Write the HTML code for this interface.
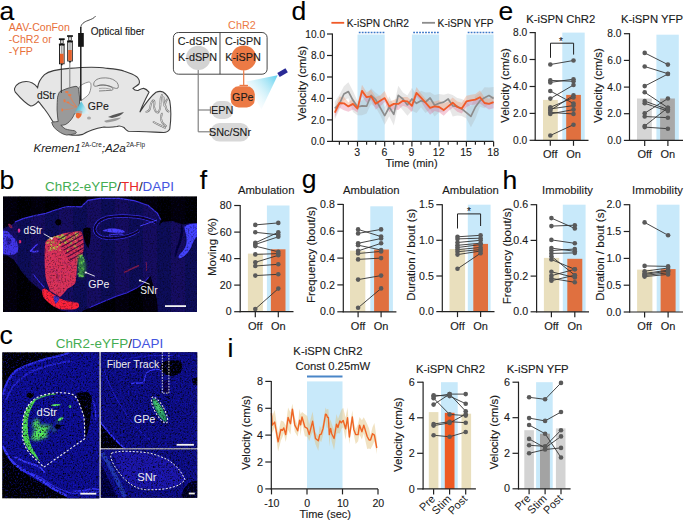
<!DOCTYPE html><html><head><meta charset="utf-8"><style>html,body{margin:0;padding:0;background:#fff;}svg{display:block;font-family:"Liberation Sans", sans-serif;}</style></head><body><svg width="685" height="522" viewBox="0 0 685 522"><rect width="685" height="522" fill="#fff"/>
<text x="-0.5" y="19.8" font-size="26.5" text-anchor="start" fill="#000" stroke="#000" stroke-width="0.12" >a</text>
<text x="291.5" y="19.8" font-size="26.5" text-anchor="start" fill="#000" stroke="#000" stroke-width="0.12" >d</text>
<text x="498.5" y="19.5" font-size="26.5" text-anchor="start" fill="#000" stroke="#000" stroke-width="0.12" >e</text>
<text x="-0.5" y="189.2" font-size="26.5" text-anchor="start" fill="#000" stroke="#000" stroke-width="0.12" >b</text>
<text x="-0.5" y="343.5" font-size="26.5" text-anchor="start" fill="#000" stroke="#000" stroke-width="0.12" >c</text>
<text x="199.8" y="188.5" font-size="26.5" text-anchor="start" fill="#000" stroke="#000" stroke-width="0.12" >f</text>
<text x="301.8" y="188.3" font-size="26.5" text-anchor="start" fill="#000" stroke="#000" stroke-width="0.12" >g</text>
<text x="502.5" y="189.2" font-size="26.5" text-anchor="start" fill="#000" stroke="#000" stroke-width="0.12" >h</text>
<text x="227.6" y="356.8" font-size="26.5" text-anchor="start" fill="#000" stroke="#000" stroke-width="0.12" >i</text>
<rect x="357.5" y="34.5" width="27.2" height="106.9" fill="#c8e9fa" />
<line x1="358.8" y1="32.4" x2="384.4" y2="32.4" stroke="#3b78c9" stroke-width="1.5" stroke-dasharray="1.8 1.17"/>
<rect x="411.9" y="34.5" width="27.2" height="106.9" fill="#c8e9fa" />
<line x1="413.2" y1="32.4" x2="438.8" y2="32.4" stroke="#3b78c9" stroke-width="1.5" stroke-dasharray="1.8 1.17"/>
<rect x="466.4" y="34.5" width="27.2" height="106.9" fill="#c8e9fa" />
<line x1="467.7" y1="32.4" x2="493.3" y2="32.4" stroke="#3b78c9" stroke-width="1.5" stroke-dasharray="1.8 1.17"/>
<polygon points="334.8,101.4 339.4,94.9 343.9,86.3 348.4,82.3 353.0,90.9 357.5,101.2 362.0,100.4 366.6,95.4 371.1,88.3 375.7,92.7 380.2,95.9 384.7,107.2 389.3,96.3 393.8,106.0 398.3,85.8 402.9,92.6 407.4,95.4 411.9,88.0 416.5,94.5 421.0,90.7 425.5,92.4 430.1,92.2 434.6,95.0 439.1,94.1 443.7,94.8 448.2,93.4 452.7,94.9 457.3,98.0 461.8,98.9 466.4,101.6 470.9,106.4 475.4,95.7 480.0,92.9 484.5,87.2 489.0,87.4 493.6,87.0 493.6,104.8 489.0,103.7 484.5,108.2 480.0,106.7 475.4,118.8 470.9,127.2 466.4,118.4 461.8,116.1 457.3,115.5 452.7,116.6 448.2,105.7 443.7,112.1 439.1,112.3 434.6,116.4 430.1,109.6 425.5,113.0 421.0,107.2 416.5,113.0 411.9,110.7 407.4,115.8 402.9,110.3 398.3,105.1 393.8,125.6 389.3,116.2 384.7,124.8 380.2,115.3 375.7,107.5 371.1,104.0 366.6,113.5 362.0,115.3 357.5,115.2 353.0,111.9 348.4,98.3 343.9,100.3 339.4,109.8 334.8,119.4" fill="rgba(170,170,170,0.28)"/>
<polygon points="334.8,107.9 339.4,96.7 343.9,96.7 348.4,102.5 353.0,98.2 357.5,104.7 362.0,84.8 366.6,92.3 371.1,89.7 375.7,96.9 380.2,95.4 384.7,91.1 389.3,101.6 393.8,99.9 398.3,98.2 402.9,96.9 407.4,97.1 411.9,100.8 416.5,87.1 421.0,93.4 425.5,98.8 430.1,101.3 434.6,101.6 439.1,100.2 443.7,103.5 448.2,101.4 452.7,97.5 457.3,101.6 461.8,102.8 466.4,95.8 470.9,94.7 475.4,93.9 480.0,90.4 484.5,97.6 489.0,98.8 493.6,96.0 493.6,102.1 489.0,103.9 484.5,103.0 480.0,97.2 475.4,99.6 470.9,100.3 466.4,101.4 461.8,108.6 457.3,107.0 452.7,102.7 448.2,106.4 443.7,110.1 439.1,107.0 434.6,106.4 430.1,107.9 425.5,102.7 421.0,97.7 416.5,92.9 411.9,105.9 407.4,101.4 402.9,100.8 398.3,103.9 393.8,103.9 389.3,106.4 384.7,98.1 380.2,100.8 375.7,103.8 371.1,96.3 366.6,97.2 362.0,90.9 357.5,108.6 353.0,103.9 348.4,106.4 343.9,103.3 339.4,103.0 334.8,112.6" fill="rgba(240,150,110,0.38)"/>
<polygon points="334.8,112.6 339.4,103.0 343.9,103.3 348.4,106.4 353.0,103.9 357.5,108.6 362.0,90.9 366.6,97.2 371.1,96.3 375.7,103.8 380.2,100.8 384.7,98.1 389.3,106.4 393.8,103.9 398.3,103.9 402.9,100.8 407.4,101.4 411.9,105.9 416.5,92.9 421.0,97.7 425.5,102.7 430.1,107.9 434.6,106.4 439.1,107.0 443.7,110.1 448.2,106.4 452.7,102.7 457.3,107.0 461.8,108.6 466.4,101.4 470.9,100.3 475.4,99.6 480.0,97.2 484.5,103.0 489.0,103.9 493.6,102.1 493.6,108.2 489.0,109.5 484.5,106.8 480.0,103.4 475.4,104.6 470.9,105.0 466.4,107.1 461.8,113.6 457.3,111.8 452.7,107.7 448.2,111.2 443.7,115.8 439.1,112.3 434.6,111.0 430.1,114.8 425.5,108.7 421.0,101.6 416.5,96.7 411.9,112.0 407.4,107.5 402.9,105.7 398.3,109.9 393.8,109.2 389.3,112.2 384.7,102.1 380.2,106.6 375.7,109.6 371.1,100.1 366.6,102.8 362.0,96.0 357.5,112.4 353.0,109.4 348.4,111.8 343.9,110.2 339.4,107.7 334.8,117.1" fill="rgba(225,100,140,0.33)"/>
<polyline points="334.8,108.3 339.4,103.8 343.9,94.0 348.4,91.6 353.0,100.3 357.5,107.0 362.0,105.9 366.6,106.2 371.1,95.3 375.7,99.6 380.2,107.7 384.7,115.6 389.3,107.0 393.8,114.4 398.3,95.3 402.9,99.0 407.4,104.9 411.9,99.0 416.5,103.3 421.0,100.8 425.5,102.1 430.1,98.0 434.6,105.2 439.1,103.3 443.7,102.1 448.2,99.0 452.7,105.9 457.3,106.4 461.8,108.9 466.4,112.6 470.9,116.4 475.4,107.0 480.0,100.8 484.5,97.7 489.0,95.6 493.6,98.4" fill="none" stroke="#8c8c8c" stroke-width="1.7" stroke-linejoin="round"/>
<polyline points="334.8,112.6 339.4,103.0 343.9,103.3 348.4,106.4 353.0,103.9 357.5,108.6 362.0,90.9 366.6,97.2 371.1,96.3 375.7,103.8 380.2,100.8 384.7,98.1 389.3,106.4 393.8,103.9 398.3,103.9 402.9,100.8 407.4,101.4 411.9,105.9 416.5,92.9 421.0,97.7 425.5,102.7 430.1,107.9 434.6,106.4 439.1,107.0 443.7,110.1 448.2,106.4 452.7,102.7 457.3,107.0 461.8,108.6 466.4,101.4 470.9,100.3 475.4,99.6 480.0,97.2 484.5,103.0 489.0,103.9 493.6,102.1" fill="none" stroke="#f05a28" stroke-width="1.8" stroke-linejoin="round"/>
<line x1="332.4" y1="141.9" x2="332.4" y2="33.5" stroke="#222" stroke-width="1.2" />
<line x1="327.0" y1="141.4" x2="332.4" y2="141.4" stroke="#222" stroke-width="1.2" />
<text x="325.0" y="145.0" font-size="10.1" text-anchor="end" fill="#1a1a1a" stroke="#1a1a1a" stroke-width="0.12" >0.0</text>
<line x1="327.0" y1="119.9" x2="332.4" y2="119.9" stroke="#222" stroke-width="1.2" />
<text x="325.0" y="123.5" font-size="10.1" text-anchor="end" fill="#1a1a1a" stroke="#1a1a1a" stroke-width="0.12" >2.0</text>
<line x1="327.0" y1="98.4" x2="332.4" y2="98.4" stroke="#222" stroke-width="1.2" />
<text x="325.0" y="102.0" font-size="10.1" text-anchor="end" fill="#1a1a1a" stroke="#1a1a1a" stroke-width="0.12" >4.0</text>
<line x1="327.0" y1="77.0" x2="332.4" y2="77.0" stroke="#222" stroke-width="1.2" />
<text x="325.0" y="80.6" font-size="10.1" text-anchor="end" fill="#1a1a1a" stroke="#1a1a1a" stroke-width="0.12" >6.0</text>
<line x1="327.0" y1="55.5" x2="332.4" y2="55.5" stroke="#222" stroke-width="1.2" />
<text x="325.0" y="59.1" font-size="10.1" text-anchor="end" fill="#1a1a1a" stroke="#1a1a1a" stroke-width="0.12" >8.0</text>
<line x1="327.0" y1="34.0" x2="332.4" y2="34.0" stroke="#222" stroke-width="1.2" />
<text x="325.0" y="37.6" font-size="10.1" text-anchor="end" fill="#1a1a1a" stroke="#1a1a1a" stroke-width="0.12" >10.0</text>
<line x1="331.8" y1="141.4" x2="493.6" y2="141.4" stroke="#222" stroke-width="1.2" />
<line x1="339.4" y1="141.4" x2="339.4" y2="144.7" stroke="#222" stroke-width="1.2" />
<line x1="348.4" y1="141.4" x2="348.4" y2="144.7" stroke="#222" stroke-width="1.2" />
<line x1="366.6" y1="141.4" x2="366.6" y2="144.7" stroke="#222" stroke-width="1.2" />
<line x1="375.7" y1="141.4" x2="375.7" y2="144.7" stroke="#222" stroke-width="1.2" />
<line x1="393.8" y1="141.4" x2="393.8" y2="144.7" stroke="#222" stroke-width="1.2" />
<line x1="402.9" y1="141.4" x2="402.9" y2="144.7" stroke="#222" stroke-width="1.2" />
<line x1="421.0" y1="141.4" x2="421.0" y2="144.7" stroke="#222" stroke-width="1.2" />
<line x1="430.1" y1="141.4" x2="430.1" y2="144.7" stroke="#222" stroke-width="1.2" />
<line x1="448.2" y1="141.4" x2="448.2" y2="144.7" stroke="#222" stroke-width="1.2" />
<line x1="457.3" y1="141.4" x2="457.3" y2="144.7" stroke="#222" stroke-width="1.2" />
<line x1="475.4" y1="141.4" x2="475.4" y2="144.7" stroke="#222" stroke-width="1.2" />
<line x1="484.5" y1="141.4" x2="484.5" y2="144.7" stroke="#222" stroke-width="1.2" />
<line x1="357.5" y1="141.4" x2="357.5" y2="146.4" stroke="#222" stroke-width="1.2" />
<line x1="384.7" y1="141.4" x2="384.7" y2="146.4" stroke="#222" stroke-width="1.2" />
<line x1="411.9" y1="141.4" x2="411.9" y2="146.4" stroke="#222" stroke-width="1.2" />
<line x1="439.1" y1="141.4" x2="439.1" y2="146.4" stroke="#222" stroke-width="1.2" />
<line x1="466.4" y1="141.4" x2="466.4" y2="146.4" stroke="#222" stroke-width="1.2" />
<line x1="493.6" y1="141.4" x2="493.6" y2="146.4" stroke="#222" stroke-width="1.2" />
<text x="357.1" y="155.5" font-size="10.5" text-anchor="middle" fill="#1a1a1a" stroke="#1a1a1a" stroke-width="0.12" >3</text>
<text x="384.3" y="155.5" font-size="10.5" text-anchor="middle" fill="#1a1a1a" stroke="#1a1a1a" stroke-width="0.12" >6</text>
<text x="411.5" y="155.5" font-size="10.5" text-anchor="middle" fill="#1a1a1a" stroke="#1a1a1a" stroke-width="0.12" >9</text>
<text x="438.7" y="155.5" font-size="10.5" text-anchor="middle" fill="#1a1a1a" stroke="#1a1a1a" stroke-width="0.12" >12</text>
<text x="466.0" y="155.5" font-size="10.5" text-anchor="middle" fill="#1a1a1a" stroke="#1a1a1a" stroke-width="0.12" >15</text>
<text x="493.2" y="155.5" font-size="10.5" text-anchor="middle" fill="#1a1a1a" stroke="#1a1a1a" stroke-width="0.12" >18</text>
<text x="411.5" y="166.5" font-size="11" text-anchor="middle" fill="#1a1a1a" stroke="#1a1a1a" stroke-width="0.12" >Time (min)</text>
<text transform="translate(305.9,83.3) rotate(-90)" font-size="11.5" text-anchor="middle" fill="#1a1a1a" stroke="#1a1a1a" stroke-width="0.12">Velocity (cm/s)</text>
<line x1="331.4" y1="22.8" x2="344.2" y2="22.8" stroke="#f05a28" stroke-width="1.8" />
<text x="346.7" y="26.5" font-size="10.2" text-anchor="start" fill="#1a1a1a" stroke="#1a1a1a" stroke-width="0.12" >K-iSPN ChR2</text>
<line x1="422.0" y1="22.8" x2="435.0" y2="22.8" stroke="#8c8c8c" stroke-width="1.8" />
<text x="437.6" y="26.5" font-size="10.2" text-anchor="start" fill="#1a1a1a" stroke="#1a1a1a" stroke-width="0.12" >K-iSPN YFP</text>
<rect x="562.3" y="32.6" width="22.4" height="107.7" fill="#c8e9fa" />
<rect x="543.0" y="99.9" width="14.8" height="40.4" fill="#e9dfbd" />
<rect x="566.2" y="94.9" width="14.7" height="45.4" fill="#e0703f" />
<line x1="550.3" y1="64.5" x2="573.5" y2="60.5" stroke="#333" stroke-width="0.9" />
<line x1="550.3" y1="80.4" x2="573.5" y2="81.3" stroke="#333" stroke-width="0.9" />
<line x1="550.3" y1="82.4" x2="573.5" y2="79.2" stroke="#333" stroke-width="0.9" />
<line x1="550.3" y1="91.0" x2="573.5" y2="103.5" stroke="#333" stroke-width="0.9" />
<line x1="550.3" y1="98.6" x2="573.5" y2="85.0" stroke="#333" stroke-width="0.9" />
<line x1="550.3" y1="107.3" x2="573.5" y2="97.5" stroke="#333" stroke-width="0.9" />
<line x1="550.3" y1="108.9" x2="573.5" y2="105.6" stroke="#333" stroke-width="0.9" />
<line x1="550.3" y1="110.4" x2="573.5" y2="95.3" stroke="#333" stroke-width="0.9" />
<line x1="550.3" y1="112.4" x2="573.5" y2="114.0" stroke="#333" stroke-width="0.9" />
<line x1="550.3" y1="113.9" x2="573.5" y2="109.6" stroke="#333" stroke-width="0.9" />
<line x1="550.3" y1="135.5" x2="573.5" y2="124.7" stroke="#333" stroke-width="0.9" />
<circle cx="550.3" cy="64.5" r="2.3" fill="#5a5a5a" />
<circle cx="550.3" cy="80.4" r="2.3" fill="#5a5a5a" />
<circle cx="550.3" cy="82.4" r="2.3" fill="#5a5a5a" />
<circle cx="550.3" cy="91.0" r="2.3" fill="#5a5a5a" />
<circle cx="550.3" cy="98.6" r="2.3" fill="#5a5a5a" />
<circle cx="550.3" cy="107.3" r="2.3" fill="#5a5a5a" />
<circle cx="550.3" cy="108.9" r="2.3" fill="#5a5a5a" />
<circle cx="550.3" cy="110.4" r="2.3" fill="#5a5a5a" />
<circle cx="550.3" cy="112.4" r="2.3" fill="#5a5a5a" />
<circle cx="550.3" cy="113.9" r="2.3" fill="#5a5a5a" />
<circle cx="550.3" cy="135.5" r="2.3" fill="#5a5a5a" />
<circle cx="573.5" cy="60.5" r="2.3" fill="#5a5a5a" />
<circle cx="573.5" cy="81.3" r="2.3" fill="#5a5a5a" />
<circle cx="573.5" cy="79.2" r="2.3" fill="#5a5a5a" />
<circle cx="573.5" cy="103.5" r="2.3" fill="#5a5a5a" />
<circle cx="573.5" cy="85.0" r="2.3" fill="#5a5a5a" />
<circle cx="573.5" cy="97.5" r="2.3" fill="#5a5a5a" />
<circle cx="573.5" cy="105.6" r="2.3" fill="#5a5a5a" />
<circle cx="573.5" cy="95.3" r="2.3" fill="#5a5a5a" />
<circle cx="573.5" cy="114.0" r="2.3" fill="#5a5a5a" />
<circle cx="573.5" cy="109.6" r="2.3" fill="#5a5a5a" />
<circle cx="573.5" cy="124.7" r="2.3" fill="#5a5a5a" />
<line x1="535.2" y1="140.8" x2="535.2" y2="32.1" stroke="#222" stroke-width="1.2" />
<line x1="529.6" y1="140.3" x2="535.2" y2="140.3" stroke="#222" stroke-width="1.2" />
<text x="527.2" y="143.9" font-size="10.2" text-anchor="end" fill="#1a1a1a" stroke="#1a1a1a" stroke-width="0.12" >0.0</text>
<line x1="529.6" y1="113.4" x2="535.2" y2="113.4" stroke="#222" stroke-width="1.2" />
<text x="527.2" y="117.0" font-size="10.2" text-anchor="end" fill="#1a1a1a" stroke="#1a1a1a" stroke-width="0.12" >2.0</text>
<line x1="529.6" y1="86.5" x2="535.2" y2="86.5" stroke="#222" stroke-width="1.2" />
<text x="527.2" y="90.0" font-size="10.2" text-anchor="end" fill="#1a1a1a" stroke="#1a1a1a" stroke-width="0.12" >4.0</text>
<line x1="529.6" y1="59.5" x2="535.2" y2="59.5" stroke="#222" stroke-width="1.2" />
<text x="527.2" y="63.1" font-size="10.2" text-anchor="end" fill="#1a1a1a" stroke="#1a1a1a" stroke-width="0.12" >6.0</text>
<line x1="529.6" y1="32.6" x2="535.2" y2="32.6" stroke="#222" stroke-width="1.2" />
<text x="527.2" y="36.2" font-size="10.2" text-anchor="end" fill="#1a1a1a" stroke="#1a1a1a" stroke-width="0.12" >8.0</text>
<line x1="534.6" y1="140.3" x2="588.5" y2="140.3" stroke="#222" stroke-width="1.2" />
<line x1="550.3" y1="140.3" x2="550.3" y2="145.8" stroke="#222" stroke-width="1.2" />
<line x1="573.5" y1="140.3" x2="573.5" y2="145.8" stroke="#222" stroke-width="1.2" />
<text x="550.3" y="157.6" font-size="11" text-anchor="middle" fill="#1a1a1a" stroke="#1a1a1a" stroke-width="0.12" >Off</text>
<text x="573.5" y="157.6" font-size="11" text-anchor="middle" fill="#1a1a1a" stroke="#1a1a1a" stroke-width="0.12" >On</text>
<text x="560.7" y="22.9" font-size="11.3" text-anchor="middle" fill="#1a1a1a" stroke="#1a1a1a" stroke-width="0.12" >K-iSPN ChR2</text>
<text transform="translate(509.1,85.5) rotate(-90)" font-size="11.5" text-anchor="middle" fill="#1a1a1a" stroke="#1a1a1a" stroke-width="0.12">Velocity (cm/s)</text>
<polyline points="550.5,57.8 550.5,43.2 573.6,43.2 573.6,54.6" fill="none" stroke="#222" stroke-width="1"/>
<text x="561.0" y="44.9" font-size="10" text-anchor="middle" fill="#1a1a1a" stroke="#1a1a1a" stroke-width="0.12" >*</text>
<rect x="656.4" y="34.7" width="22.4" height="105.7" fill="#c8e9fa" />
<rect x="637.0" y="98.5" width="14.8" height="41.9" fill="#d5d5d5" />
<rect x="660.1" y="98.5" width="14.8" height="41.9" fill="#a9a9a9" />
<line x1="644.7" y1="52.9" x2="667.9" y2="64.6" stroke="#333" stroke-width="0.9" />
<line x1="644.7" y1="66.5" x2="667.9" y2="73.7" stroke="#333" stroke-width="0.9" />
<line x1="644.7" y1="86.1" x2="667.9" y2="74.0" stroke="#333" stroke-width="0.9" />
<line x1="644.7" y1="92.3" x2="667.9" y2="107.7" stroke="#333" stroke-width="0.9" />
<line x1="644.7" y1="101.1" x2="667.9" y2="109.5" stroke="#333" stroke-width="0.9" />
<line x1="644.7" y1="103.3" x2="667.9" y2="111.1" stroke="#333" stroke-width="0.9" />
<line x1="644.7" y1="113.2" x2="667.9" y2="98.5" stroke="#333" stroke-width="0.9" />
<line x1="644.7" y1="116.5" x2="667.9" y2="117.7" stroke="#333" stroke-width="0.9" />
<line x1="644.7" y1="126.0" x2="667.9" y2="107.7" stroke="#333" stroke-width="0.9" />
<line x1="644.7" y1="127.1" x2="667.9" y2="128.7" stroke="#333" stroke-width="0.9" />
<circle cx="644.7" cy="52.9" r="2.3" fill="#5a5a5a" />
<circle cx="644.7" cy="66.5" r="2.3" fill="#5a5a5a" />
<circle cx="644.7" cy="86.1" r="2.3" fill="#5a5a5a" />
<circle cx="644.7" cy="92.3" r="2.3" fill="#5a5a5a" />
<circle cx="644.7" cy="101.1" r="2.3" fill="#5a5a5a" />
<circle cx="644.7" cy="103.3" r="2.3" fill="#5a5a5a" />
<circle cx="644.7" cy="113.2" r="2.3" fill="#5a5a5a" />
<circle cx="644.7" cy="116.5" r="2.3" fill="#5a5a5a" />
<circle cx="644.7" cy="126.0" r="2.3" fill="#5a5a5a" />
<circle cx="644.7" cy="127.1" r="2.3" fill="#5a5a5a" />
<circle cx="667.9" cy="64.6" r="2.3" fill="#5a5a5a" />
<circle cx="667.9" cy="73.7" r="2.3" fill="#5a5a5a" />
<circle cx="667.9" cy="74.0" r="2.3" fill="#5a5a5a" />
<circle cx="667.9" cy="107.7" r="2.3" fill="#5a5a5a" />
<circle cx="667.9" cy="109.5" r="2.3" fill="#5a5a5a" />
<circle cx="667.9" cy="111.1" r="2.3" fill="#5a5a5a" />
<circle cx="667.9" cy="98.5" r="2.3" fill="#5a5a5a" />
<circle cx="667.9" cy="117.7" r="2.3" fill="#5a5a5a" />
<circle cx="667.9" cy="107.7" r="2.3" fill="#5a5a5a" />
<circle cx="667.9" cy="128.7" r="2.3" fill="#5a5a5a" />
<line x1="629.5" y1="140.9" x2="629.5" y2="33.2" stroke="#222" stroke-width="1.2" />
<line x1="623.9" y1="140.4" x2="629.5" y2="140.4" stroke="#222" stroke-width="1.2" />
<text x="621.5" y="144.0" font-size="10.2" text-anchor="end" fill="#1a1a1a" stroke="#1a1a1a" stroke-width="0.12" >0.0</text>
<line x1="623.9" y1="113.7" x2="629.5" y2="113.7" stroke="#222" stroke-width="1.2" />
<text x="621.5" y="117.3" font-size="10.2" text-anchor="end" fill="#1a1a1a" stroke="#1a1a1a" stroke-width="0.12" >2.0</text>
<line x1="623.9" y1="87.1" x2="629.5" y2="87.1" stroke="#222" stroke-width="1.2" />
<text x="621.5" y="90.7" font-size="10.2" text-anchor="end" fill="#1a1a1a" stroke="#1a1a1a" stroke-width="0.12" >4.0</text>
<line x1="623.9" y1="60.4" x2="629.5" y2="60.4" stroke="#222" stroke-width="1.2" />
<text x="621.5" y="64.0" font-size="10.2" text-anchor="end" fill="#1a1a1a" stroke="#1a1a1a" stroke-width="0.12" >6.0</text>
<line x1="623.9" y1="33.7" x2="629.5" y2="33.7" stroke="#222" stroke-width="1.2" />
<text x="621.5" y="37.3" font-size="10.2" text-anchor="end" fill="#1a1a1a" stroke="#1a1a1a" stroke-width="0.12" >8.0</text>
<line x1="628.9" y1="140.4" x2="683.0" y2="140.4" stroke="#222" stroke-width="1.2" />
<line x1="644.7" y1="140.4" x2="644.7" y2="145.9" stroke="#222" stroke-width="1.2" />
<line x1="667.9" y1="140.4" x2="667.9" y2="145.9" stroke="#222" stroke-width="1.2" />
<text x="644.7" y="157.6" font-size="11" text-anchor="middle" fill="#1a1a1a" stroke="#1a1a1a" stroke-width="0.12" >Off</text>
<text x="667.9" y="157.6" font-size="11" text-anchor="middle" fill="#1a1a1a" stroke="#1a1a1a" stroke-width="0.12" >On</text>
<text x="652.0" y="22.9" font-size="11.3" text-anchor="middle" fill="#1a1a1a" stroke="#1a1a1a" stroke-width="0.12" >K-iSPN YFP</text>
<text transform="translate(601.7,85.5) rotate(-90)" font-size="11.5" text-anchor="middle" fill="#1a1a1a" stroke="#1a1a1a" stroke-width="0.12">Velocity (cm/s)</text>
<rect x="266.9" y="205.5" width="22.6" height="106.2" fill="#c8e9fa" />
<rect x="247.9" y="253.6" width="15.0" height="58.1" fill="#e9dfbd" />
<rect x="270.9" y="249.3" width="14.6" height="62.4" fill="#e0703f" />
<line x1="255.3" y1="224.9" x2="278.3" y2="222.9" stroke="#333" stroke-width="0.9" />
<line x1="255.3" y1="232.3" x2="278.3" y2="234.8" stroke="#333" stroke-width="0.9" />
<line x1="255.3" y1="242.8" x2="278.3" y2="232.3" stroke="#333" stroke-width="0.9" />
<line x1="255.3" y1="244.4" x2="278.3" y2="236.8" stroke="#333" stroke-width="0.9" />
<line x1="255.3" y1="246.1" x2="278.3" y2="251.8" stroke="#333" stroke-width="0.9" />
<line x1="255.3" y1="254.4" x2="278.3" y2="253.6" stroke="#333" stroke-width="0.9" />
<line x1="255.3" y1="262.3" x2="278.3" y2="255.3" stroke="#333" stroke-width="0.9" />
<line x1="255.3" y1="266.0" x2="278.3" y2="264.3" stroke="#333" stroke-width="0.9" />
<line x1="255.3" y1="275.6" x2="278.3" y2="274.3" stroke="#333" stroke-width="0.9" />
<line x1="255.3" y1="309.0" x2="278.3" y2="288.6" stroke="#333" stroke-width="0.9" />
<circle cx="255.3" cy="224.9" r="2.3" fill="#5a5a5a" />
<circle cx="255.3" cy="232.3" r="2.3" fill="#5a5a5a" />
<circle cx="255.3" cy="242.8" r="2.3" fill="#5a5a5a" />
<circle cx="255.3" cy="244.4" r="2.3" fill="#5a5a5a" />
<circle cx="255.3" cy="246.1" r="2.3" fill="#5a5a5a" />
<circle cx="255.3" cy="254.4" r="2.3" fill="#5a5a5a" />
<circle cx="255.3" cy="262.3" r="2.3" fill="#5a5a5a" />
<circle cx="255.3" cy="266.0" r="2.3" fill="#5a5a5a" />
<circle cx="255.3" cy="275.6" r="2.3" fill="#5a5a5a" />
<circle cx="255.3" cy="309.0" r="2.3" fill="#5a5a5a" />
<circle cx="278.3" cy="222.9" r="2.3" fill="#5a5a5a" />
<circle cx="278.3" cy="234.8" r="2.3" fill="#5a5a5a" />
<circle cx="278.3" cy="232.3" r="2.3" fill="#5a5a5a" />
<circle cx="278.3" cy="236.8" r="2.3" fill="#5a5a5a" />
<circle cx="278.3" cy="251.8" r="2.3" fill="#5a5a5a" />
<circle cx="278.3" cy="253.6" r="2.3" fill="#5a5a5a" />
<circle cx="278.3" cy="255.3" r="2.3" fill="#5a5a5a" />
<circle cx="278.3" cy="264.3" r="2.3" fill="#5a5a5a" />
<circle cx="278.3" cy="274.3" r="2.3" fill="#5a5a5a" />
<circle cx="278.3" cy="288.6" r="2.3" fill="#5a5a5a" />
<line x1="240.2" y1="312.2" x2="240.2" y2="205.0" stroke="#222" stroke-width="1.2" />
<line x1="234.2" y1="311.7" x2="240.2" y2="311.7" stroke="#222" stroke-width="1.2" />
<text x="231.6" y="315.3" font-size="10.6" text-anchor="end" fill="#1a1a1a" stroke="#1a1a1a" stroke-width="0.12" >0</text>
<line x1="234.2" y1="285.1" x2="240.2" y2="285.1" stroke="#222" stroke-width="1.2" />
<text x="231.6" y="288.8" font-size="10.6" text-anchor="end" fill="#1a1a1a" stroke="#1a1a1a" stroke-width="0.12" >20</text>
<line x1="234.2" y1="258.6" x2="240.2" y2="258.6" stroke="#222" stroke-width="1.2" />
<text x="231.6" y="262.2" font-size="10.6" text-anchor="end" fill="#1a1a1a" stroke="#1a1a1a" stroke-width="0.12" >40</text>
<line x1="234.2" y1="232.1" x2="240.2" y2="232.1" stroke="#222" stroke-width="1.2" />
<text x="231.6" y="235.7" font-size="10.6" text-anchor="end" fill="#1a1a1a" stroke="#1a1a1a" stroke-width="0.12" >60</text>
<line x1="234.2" y1="205.5" x2="240.2" y2="205.5" stroke="#222" stroke-width="1.2" />
<text x="231.6" y="209.1" font-size="10.6" text-anchor="end" fill="#1a1a1a" stroke="#1a1a1a" stroke-width="0.12" >80</text>
<line x1="239.6" y1="311.7" x2="293.5" y2="311.7" stroke="#222" stroke-width="1.2" />
<line x1="255.3" y1="311.7" x2="255.3" y2="317.2" stroke="#222" stroke-width="1.2" />
<line x1="278.3" y1="311.7" x2="278.3" y2="317.2" stroke="#222" stroke-width="1.2" />
<text x="255.3" y="329.8" font-size="11" text-anchor="middle" fill="#1a1a1a" stroke="#1a1a1a" stroke-width="0.12" >Off</text>
<text x="278.3" y="329.8" font-size="11" text-anchor="middle" fill="#1a1a1a" stroke="#1a1a1a" stroke-width="0.12" >On</text>
<text x="266.2" y="193.6" font-size="11.3" text-anchor="middle" fill="#1a1a1a" stroke="#1a1a1a" stroke-width="0.12" >Ambulation</text>
<text transform="translate(215.8,246.9) rotate(-90)" font-size="11.5" text-anchor="middle" fill="#1a1a1a" stroke="#1a1a1a" stroke-width="0.12">Moving (%)</text>
<rect x="370.3" y="206.3" width="22.6" height="105.5" fill="#c8e9fa" />
<rect x="350.0" y="250.6" width="15.3" height="61.2" fill="#e9dfbd" />
<rect x="374.1" y="249.5" width="14.8" height="62.3" fill="#e0703f" />
<line x1="358.1" y1="229.4" x2="381.1" y2="236.6" stroke="#333" stroke-width="0.9" />
<line x1="358.1" y1="233.4" x2="381.1" y2="229.4" stroke="#333" stroke-width="0.9" />
<line x1="358.1" y1="243.3" x2="381.1" y2="238.5" stroke="#333" stroke-width="0.9" />
<line x1="358.1" y1="245.2" x2="381.1" y2="250.0" stroke="#333" stroke-width="0.9" />
<line x1="358.1" y1="250.9" x2="381.1" y2="243.3" stroke="#333" stroke-width="0.9" />
<line x1="358.1" y1="253.5" x2="381.1" y2="251.4" stroke="#333" stroke-width="0.9" />
<line x1="358.1" y1="259.4" x2="381.1" y2="258.1" stroke="#333" stroke-width="0.9" />
<line x1="358.1" y1="279.6" x2="381.1" y2="275.6" stroke="#333" stroke-width="0.9" />
<line x1="358.1" y1="307.8" x2="381.1" y2="288.4" stroke="#333" stroke-width="0.9" />
<circle cx="358.1" cy="229.4" r="2.3" fill="#5a5a5a" />
<circle cx="358.1" cy="233.4" r="2.3" fill="#5a5a5a" />
<circle cx="358.1" cy="243.3" r="2.3" fill="#5a5a5a" />
<circle cx="358.1" cy="245.2" r="2.3" fill="#5a5a5a" />
<circle cx="358.1" cy="250.9" r="2.3" fill="#5a5a5a" />
<circle cx="358.1" cy="253.5" r="2.3" fill="#5a5a5a" />
<circle cx="358.1" cy="259.4" r="2.3" fill="#5a5a5a" />
<circle cx="358.1" cy="279.6" r="2.3" fill="#5a5a5a" />
<circle cx="358.1" cy="307.8" r="2.3" fill="#5a5a5a" />
<circle cx="381.1" cy="236.6" r="2.3" fill="#5a5a5a" />
<circle cx="381.1" cy="229.4" r="2.3" fill="#5a5a5a" />
<circle cx="381.1" cy="238.5" r="2.3" fill="#5a5a5a" />
<circle cx="381.1" cy="250.0" r="2.3" fill="#5a5a5a" />
<circle cx="381.1" cy="243.3" r="2.3" fill="#5a5a5a" />
<circle cx="381.1" cy="251.4" r="2.3" fill="#5a5a5a" />
<circle cx="381.1" cy="258.1" r="2.3" fill="#5a5a5a" />
<circle cx="381.1" cy="275.6" r="2.3" fill="#5a5a5a" />
<circle cx="381.1" cy="288.4" r="2.3" fill="#5a5a5a" />
<line x1="343.3" y1="312.3" x2="343.3" y2="203.9" stroke="#222" stroke-width="1.2" />
<line x1="337.3" y1="311.8" x2="343.3" y2="311.8" stroke="#222" stroke-width="1.2" />
<text x="334.8" y="315.4" font-size="10.6" text-anchor="end" fill="#1a1a1a" stroke="#1a1a1a" stroke-width="0.12" >0.0</text>
<line x1="337.3" y1="284.9" x2="343.3" y2="284.9" stroke="#222" stroke-width="1.2" />
<text x="334.8" y="288.6" font-size="10.6" text-anchor="end" fill="#1a1a1a" stroke="#1a1a1a" stroke-width="0.12" >0.2</text>
<line x1="337.3" y1="258.1" x2="343.3" y2="258.1" stroke="#222" stroke-width="1.2" />
<text x="334.8" y="261.7" font-size="10.6" text-anchor="end" fill="#1a1a1a" stroke="#1a1a1a" stroke-width="0.12" >0.4</text>
<line x1="337.3" y1="231.2" x2="343.3" y2="231.2" stroke="#222" stroke-width="1.2" />
<text x="334.8" y="234.8" font-size="10.6" text-anchor="end" fill="#1a1a1a" stroke="#1a1a1a" stroke-width="0.12" >0.6</text>
<line x1="337.3" y1="204.4" x2="343.3" y2="204.4" stroke="#222" stroke-width="1.2" />
<text x="334.8" y="208.0" font-size="10.6" text-anchor="end" fill="#1a1a1a" stroke="#1a1a1a" stroke-width="0.12" >0.8</text>
<line x1="342.7" y1="311.8" x2="396.4" y2="311.8" stroke="#222" stroke-width="1.2" />
<line x1="358.1" y1="311.8" x2="358.1" y2="317.3" stroke="#222" stroke-width="1.2" />
<line x1="381.1" y1="311.8" x2="381.1" y2="317.3" stroke="#222" stroke-width="1.2" />
<text x="358.1" y="329.8" font-size="11" text-anchor="middle" fill="#1a1a1a" stroke="#1a1a1a" stroke-width="0.12" >Off</text>
<text x="381.1" y="329.8" font-size="11" text-anchor="middle" fill="#1a1a1a" stroke="#1a1a1a" stroke-width="0.12" >On</text>
<text x="371.3" y="193.6" font-size="11.3" text-anchor="middle" fill="#1a1a1a" stroke="#1a1a1a" stroke-width="0.12" >Ambulation</text>
<text transform="translate(315.3,254.8) rotate(-90)" font-size="11.5" text-anchor="middle" fill="#1a1a1a" stroke="#1a1a1a" stroke-width="0.12">Frequency (bout/s)</text>
<rect x="467.8" y="204.7" width="22.8" height="106.9" fill="#c8e9fa" />
<rect x="449.5" y="249.0" width="15.6" height="62.6" fill="#e9dfbd" />
<rect x="473.3" y="243.9" width="14.7" height="67.7" fill="#e0703f" />
<line x1="457.5" y1="236.8" x2="480.6" y2="235.3" stroke="#333" stroke-width="0.9" />
<line x1="457.5" y1="238.9" x2="480.6" y2="238.2" stroke="#333" stroke-width="0.9" />
<line x1="457.5" y1="242.5" x2="480.6" y2="240.3" stroke="#333" stroke-width="0.9" />
<line x1="457.5" y1="245.3" x2="480.6" y2="243.2" stroke="#333" stroke-width="0.9" />
<line x1="457.5" y1="247.5" x2="480.6" y2="244.6" stroke="#333" stroke-width="0.9" />
<line x1="457.5" y1="249.6" x2="480.6" y2="247.5" stroke="#333" stroke-width="0.9" />
<line x1="457.5" y1="251.7" x2="480.6" y2="249.6" stroke="#333" stroke-width="0.9" />
<line x1="457.5" y1="254.6" x2="480.6" y2="251.0" stroke="#333" stroke-width="0.9" />
<line x1="457.5" y1="268.8" x2="480.6" y2="253.2" stroke="#333" stroke-width="0.9" />
<circle cx="457.5" cy="236.8" r="2.3" fill="#5a5a5a" />
<circle cx="457.5" cy="238.9" r="2.3" fill="#5a5a5a" />
<circle cx="457.5" cy="242.5" r="2.3" fill="#5a5a5a" />
<circle cx="457.5" cy="245.3" r="2.3" fill="#5a5a5a" />
<circle cx="457.5" cy="247.5" r="2.3" fill="#5a5a5a" />
<circle cx="457.5" cy="249.6" r="2.3" fill="#5a5a5a" />
<circle cx="457.5" cy="251.7" r="2.3" fill="#5a5a5a" />
<circle cx="457.5" cy="254.6" r="2.3" fill="#5a5a5a" />
<circle cx="457.5" cy="268.8" r="2.3" fill="#5a5a5a" />
<circle cx="480.6" cy="235.3" r="2.3" fill="#5a5a5a" />
<circle cx="480.6" cy="238.2" r="2.3" fill="#5a5a5a" />
<circle cx="480.6" cy="240.3" r="2.3" fill="#5a5a5a" />
<circle cx="480.6" cy="243.2" r="2.3" fill="#5a5a5a" />
<circle cx="480.6" cy="244.6" r="2.3" fill="#5a5a5a" />
<circle cx="480.6" cy="247.5" r="2.3" fill="#5a5a5a" />
<circle cx="480.6" cy="249.6" r="2.3" fill="#5a5a5a" />
<circle cx="480.6" cy="251.0" r="2.3" fill="#5a5a5a" />
<circle cx="480.6" cy="253.2" r="2.3" fill="#5a5a5a" />
<line x1="442.3" y1="312.1" x2="442.3" y2="204.2" stroke="#222" stroke-width="1.2" />
<line x1="436.3" y1="311.6" x2="442.3" y2="311.6" stroke="#222" stroke-width="1.2" />
<text x="433.8" y="315.2" font-size="10.6" text-anchor="end" fill="#1a1a1a" stroke="#1a1a1a" stroke-width="0.12" >0.0</text>
<line x1="436.3" y1="276.0" x2="442.3" y2="276.0" stroke="#222" stroke-width="1.2" />
<text x="433.8" y="279.6" font-size="10.6" text-anchor="end" fill="#1a1a1a" stroke="#1a1a1a" stroke-width="0.12" >0.5</text>
<line x1="436.3" y1="240.3" x2="442.3" y2="240.3" stroke="#222" stroke-width="1.2" />
<text x="433.8" y="243.9" font-size="10.6" text-anchor="end" fill="#1a1a1a" stroke="#1a1a1a" stroke-width="0.12" >1.0</text>
<line x1="436.3" y1="204.7" x2="442.3" y2="204.7" stroke="#222" stroke-width="1.2" />
<text x="433.8" y="208.3" font-size="10.6" text-anchor="end" fill="#1a1a1a" stroke="#1a1a1a" stroke-width="0.12" >1.5</text>
<line x1="441.7" y1="311.6" x2="494.5" y2="311.6" stroke="#222" stroke-width="1.2" />
<line x1="457.5" y1="311.6" x2="457.5" y2="317.1" stroke="#222" stroke-width="1.2" />
<line x1="480.6" y1="311.6" x2="480.6" y2="317.1" stroke="#222" stroke-width="1.2" />
<text x="457.5" y="329.8" font-size="11" text-anchor="middle" fill="#1a1a1a" stroke="#1a1a1a" stroke-width="0.12" >Off</text>
<text x="480.6" y="329.8" font-size="11" text-anchor="middle" fill="#1a1a1a" stroke="#1a1a1a" stroke-width="0.12" >On</text>
<text x="470.5" y="193.6" font-size="11.3" text-anchor="middle" fill="#1a1a1a" stroke="#1a1a1a" stroke-width="0.12" >Ambulation</text>
<text transform="translate(415.3,254.8) rotate(-90)" font-size="11.5" text-anchor="middle" fill="#1a1a1a" stroke="#1a1a1a" stroke-width="0.12">Duration / bout (s)</text>
<polyline points="457.5,228.5 457.5,213.9 480.6,213.9 480.6,226" fill="none" stroke="#222" stroke-width="1"/>
<text x="469.0" y="215.3" font-size="10" text-anchor="middle" fill="#1a1a1a" stroke="#1a1a1a" stroke-width="0.12" >*</text>
<rect x="562.8" y="204.7" width="22.8" height="107.1" fill="#c8e9fa" />
<rect x="543.9" y="257.9" width="15.3" height="53.9" fill="#e9dfbd" />
<rect x="567.3" y="258.8" width="15.0" height="53.0" fill="#e0703f" />
<line x1="551.4" y1="218.1" x2="574.8" y2="228.4" stroke="#333" stroke-width="0.9" />
<line x1="551.4" y1="226.1" x2="574.8" y2="225.2" stroke="#333" stroke-width="0.9" />
<line x1="551.4" y1="239.9" x2="574.8" y2="243.3" stroke="#333" stroke-width="0.9" />
<line x1="551.4" y1="248.1" x2="574.8" y2="251.3" stroke="#333" stroke-width="0.9" />
<line x1="551.4" y1="250.6" x2="574.8" y2="249.0" stroke="#333" stroke-width="0.9" />
<line x1="551.4" y1="253.4" x2="574.8" y2="252.9" stroke="#333" stroke-width="0.9" />
<line x1="551.4" y1="256.3" x2="574.8" y2="275.2" stroke="#333" stroke-width="0.9" />
<line x1="551.4" y1="259.5" x2="574.8" y2="269.3" stroke="#333" stroke-width="0.9" />
<line x1="551.4" y1="271.8" x2="574.8" y2="277.5" stroke="#333" stroke-width="0.9" />
<line x1="551.4" y1="275.7" x2="574.8" y2="269.3" stroke="#333" stroke-width="0.9" />
<line x1="551.4" y1="278.4" x2="574.8" y2="282.3" stroke="#333" stroke-width="0.9" />
<line x1="551.4" y1="280.7" x2="574.8" y2="275.2" stroke="#333" stroke-width="0.9" />
<circle cx="551.4" cy="218.1" r="2.3" fill="#5a5a5a" />
<circle cx="551.4" cy="226.1" r="2.3" fill="#5a5a5a" />
<circle cx="551.4" cy="239.9" r="2.3" fill="#5a5a5a" />
<circle cx="551.4" cy="248.1" r="2.3" fill="#5a5a5a" />
<circle cx="551.4" cy="250.6" r="2.3" fill="#5a5a5a" />
<circle cx="551.4" cy="253.4" r="2.3" fill="#5a5a5a" />
<circle cx="551.4" cy="256.3" r="2.3" fill="#5a5a5a" />
<circle cx="551.4" cy="259.5" r="2.3" fill="#5a5a5a" />
<circle cx="551.4" cy="271.8" r="2.3" fill="#5a5a5a" />
<circle cx="551.4" cy="275.7" r="2.3" fill="#5a5a5a" />
<circle cx="551.4" cy="278.4" r="2.3" fill="#5a5a5a" />
<circle cx="551.4" cy="280.7" r="2.3" fill="#5a5a5a" />
<circle cx="574.8" cy="228.4" r="2.3" fill="#5a5a5a" />
<circle cx="574.8" cy="225.2" r="2.3" fill="#5a5a5a" />
<circle cx="574.8" cy="243.3" r="2.3" fill="#5a5a5a" />
<circle cx="574.8" cy="251.3" r="2.3" fill="#5a5a5a" />
<circle cx="574.8" cy="249.0" r="2.3" fill="#5a5a5a" />
<circle cx="574.8" cy="252.9" r="2.3" fill="#5a5a5a" />
<circle cx="574.8" cy="275.2" r="2.3" fill="#5a5a5a" />
<circle cx="574.8" cy="269.3" r="2.3" fill="#5a5a5a" />
<circle cx="574.8" cy="277.5" r="2.3" fill="#5a5a5a" />
<circle cx="574.8" cy="269.3" r="2.3" fill="#5a5a5a" />
<circle cx="574.8" cy="282.3" r="2.3" fill="#5a5a5a" />
<circle cx="574.8" cy="275.2" r="2.3" fill="#5a5a5a" />
<line x1="536.6" y1="312.3" x2="536.6" y2="204.2" stroke="#222" stroke-width="1.2" />
<line x1="530.6" y1="311.8" x2="536.6" y2="311.8" stroke="#222" stroke-width="1.2" />
<text x="528.1" y="315.4" font-size="10.6" text-anchor="end" fill="#1a1a1a" stroke="#1a1a1a" stroke-width="0.12" >0.0</text>
<line x1="530.6" y1="276.1" x2="536.6" y2="276.1" stroke="#222" stroke-width="1.2" />
<text x="528.1" y="279.7" font-size="10.6" text-anchor="end" fill="#1a1a1a" stroke="#1a1a1a" stroke-width="0.12" >0.2</text>
<line x1="530.6" y1="240.4" x2="536.6" y2="240.4" stroke="#222" stroke-width="1.2" />
<text x="528.1" y="244.0" font-size="10.6" text-anchor="end" fill="#1a1a1a" stroke="#1a1a1a" stroke-width="0.12" >0.4</text>
<line x1="530.6" y1="204.7" x2="536.6" y2="204.7" stroke="#222" stroke-width="1.2" />
<text x="528.1" y="208.3" font-size="10.6" text-anchor="end" fill="#1a1a1a" stroke="#1a1a1a" stroke-width="0.12" >0.6</text>
<line x1="536.0" y1="311.8" x2="589.0" y2="311.8" stroke="#222" stroke-width="1.2" />
<line x1="551.4" y1="311.8" x2="551.4" y2="317.3" stroke="#222" stroke-width="1.2" />
<line x1="574.8" y1="311.8" x2="574.8" y2="317.3" stroke="#222" stroke-width="1.2" />
<text x="551.4" y="329.8" font-size="11" text-anchor="middle" fill="#1a1a1a" stroke="#1a1a1a" stroke-width="0.12" >Off</text>
<text x="574.8" y="329.8" font-size="11" text-anchor="middle" fill="#1a1a1a" stroke="#1a1a1a" stroke-width="0.12" >On</text>
<text x="567.5" y="193.6" font-size="11.3" text-anchor="middle" fill="#1a1a1a" stroke="#1a1a1a" stroke-width="0.12" >Immobility</text>
<text transform="translate(511.4,255.9) rotate(-90)" font-size="11.5" text-anchor="middle" fill="#1a1a1a" stroke="#1a1a1a" stroke-width="0.12">Frequency (bout/s)</text>
<rect x="656.7" y="204.7" width="22.8" height="107.3" fill="#c8e9fa" />
<rect x="637.1" y="269.6" width="15.3" height="42.4" fill="#e9dfbd" />
<rect x="660.6" y="269.1" width="15.0" height="42.9" fill="#e0703f" />
<line x1="644.6" y1="222.4" x2="668.1" y2="235.3" stroke="#333" stroke-width="0.9" />
<line x1="644.6" y1="265.9" x2="668.1" y2="266.4" stroke="#333" stroke-width="0.9" />
<line x1="644.6" y1="271.2" x2="668.1" y2="268.0" stroke="#333" stroke-width="0.9" />
<line x1="644.6" y1="273.4" x2="668.1" y2="270.2" stroke="#333" stroke-width="0.9" />
<line x1="644.6" y1="274.4" x2="668.1" y2="271.2" stroke="#333" stroke-width="0.9" />
<line x1="644.6" y1="275.5" x2="668.1" y2="272.8" stroke="#333" stroke-width="0.9" />
<line x1="644.6" y1="276.6" x2="668.1" y2="274.4" stroke="#333" stroke-width="0.9" />
<circle cx="644.6" cy="222.4" r="2.3" fill="#5a5a5a" />
<circle cx="644.6" cy="265.9" r="2.3" fill="#5a5a5a" />
<circle cx="644.6" cy="271.2" r="2.3" fill="#5a5a5a" />
<circle cx="644.6" cy="273.4" r="2.3" fill="#5a5a5a" />
<circle cx="644.6" cy="274.4" r="2.3" fill="#5a5a5a" />
<circle cx="644.6" cy="275.5" r="2.3" fill="#5a5a5a" />
<circle cx="644.6" cy="276.6" r="2.3" fill="#5a5a5a" />
<circle cx="668.1" cy="235.3" r="2.3" fill="#5a5a5a" />
<circle cx="668.1" cy="266.4" r="2.3" fill="#5a5a5a" />
<circle cx="668.1" cy="268.0" r="2.3" fill="#5a5a5a" />
<circle cx="668.1" cy="270.2" r="2.3" fill="#5a5a5a" />
<circle cx="668.1" cy="271.2" r="2.3" fill="#5a5a5a" />
<circle cx="668.1" cy="272.8" r="2.3" fill="#5a5a5a" />
<circle cx="668.1" cy="274.4" r="2.3" fill="#5a5a5a" />
<line x1="629.7" y1="312.5" x2="629.7" y2="204.2" stroke="#222" stroke-width="1.2" />
<line x1="623.7" y1="312.0" x2="629.7" y2="312.0" stroke="#222" stroke-width="1.2" />
<text x="621.2" y="315.6" font-size="10.6" text-anchor="end" fill="#1a1a1a" stroke="#1a1a1a" stroke-width="0.12" >0.0</text>
<line x1="623.7" y1="285.2" x2="629.7" y2="285.2" stroke="#222" stroke-width="1.2" />
<text x="621.2" y="288.8" font-size="10.6" text-anchor="end" fill="#1a1a1a" stroke="#1a1a1a" stroke-width="0.12" >0.5</text>
<line x1="623.7" y1="258.4" x2="629.7" y2="258.4" stroke="#222" stroke-width="1.2" />
<text x="621.2" y="262.0" font-size="10.6" text-anchor="end" fill="#1a1a1a" stroke="#1a1a1a" stroke-width="0.12" >1.0</text>
<line x1="623.7" y1="231.5" x2="629.7" y2="231.5" stroke="#222" stroke-width="1.2" />
<text x="621.2" y="235.1" font-size="10.6" text-anchor="end" fill="#1a1a1a" stroke="#1a1a1a" stroke-width="0.12" >1.5</text>
<line x1="623.7" y1="204.7" x2="629.7" y2="204.7" stroke="#222" stroke-width="1.2" />
<text x="621.2" y="208.3" font-size="10.6" text-anchor="end" fill="#1a1a1a" stroke="#1a1a1a" stroke-width="0.12" >2.0</text>
<line x1="629.1" y1="312.0" x2="683.0" y2="312.0" stroke="#222" stroke-width="1.2" />
<line x1="644.6" y1="312.0" x2="644.6" y2="317.5" stroke="#222" stroke-width="1.2" />
<line x1="668.1" y1="312.0" x2="668.1" y2="317.5" stroke="#222" stroke-width="1.2" />
<text x="644.6" y="329.8" font-size="11" text-anchor="middle" fill="#1a1a1a" stroke="#1a1a1a" stroke-width="0.12" >Off</text>
<text x="668.1" y="329.8" font-size="11" text-anchor="middle" fill="#1a1a1a" stroke="#1a1a1a" stroke-width="0.12" >On</text>
<text x="657.5" y="193.6" font-size="11.3" text-anchor="middle" fill="#1a1a1a" stroke="#1a1a1a" stroke-width="0.12" >Immobility</text>
<text transform="translate(604.1,254.8) rotate(-90)" font-size="11.5" text-anchor="middle" fill="#1a1a1a" stroke="#1a1a1a" stroke-width="0.12">Duration / bout (s)</text>
<rect x="307.0" y="381.4" width="35.5" height="107.5" fill="#c8e9fa" />
<line x1="307.0" y1="376.4" x2="342.5" y2="376.4" stroke="#4a86c8" stroke-width="2" />
<polygon points="271.4,404.8 272.3,415.9 274.7,410.0 278.1,433.4 280.9,420.6 282.4,420.9 283.8,421.7 285.7,425.8 288.1,407.6 290.5,412.6 292.4,403.8 294.8,417.9 297.7,425.4 299.6,409.0 300.6,414.5 302.0,412.0 304.9,414.3 307.3,415.9 309.2,424.6 312.6,411.6 315.5,432.5 318.3,436.0 319.8,425.6 321.2,429.0 323.1,422.2 325.5,407.4 326.5,409.8 327.6,409.0 328.4,409.2 329.3,423.1 330.6,419.5 331.7,423.8 334.1,429.8 336.5,414.1 337.9,419.1 339.9,414.0 341.3,409.9 343.2,407.8 345.6,417.4 347.5,407.4 349.4,429.8 352.3,410.5 353.8,422.3 355.7,429.3 358.1,423.7 359.5,417.1 361.9,420.3 363.8,417.3 367.2,424.1 369.1,428.5 370.5,435.3 372.5,427.3 374.4,423.1 376.8,439.6 376.8,454.0 374.4,441.3 372.5,445.4 370.5,449.3 369.1,448.6 367.2,448.9 363.8,433.4 361.9,439.5 359.5,434.6 358.1,441.3 355.7,444.0 353.8,434.8 352.3,422.3 349.4,444.1 347.5,425.2 345.6,439.8 343.2,427.3 341.3,429.1 339.9,433.6 337.9,433.0 336.5,434.0 334.1,450.1 331.7,441.6 330.6,434.8 329.3,446.4 328.4,424.6 327.6,428.6 326.5,427.3 325.5,420.9 323.1,434.9 321.2,442.3 319.8,440.3 318.3,450.7 315.5,444.3 312.6,431.9 309.2,440.9 307.3,436.7 304.9,436.2 302.0,423.1 300.6,435.9 299.6,425.4 297.7,436.4 294.8,431.8 292.4,414.9 290.5,434.5 288.1,429.9 285.7,442.0 283.8,433.3 282.4,437.2 280.9,440.4 278.1,451.6 274.7,427.4 272.3,433.0 271.4,425.7" fill="rgba(225,190,120,0.45)"/>
<polyline points="271.4,413.1 272.3,425.1 274.7,422.1 278.1,441.9 280.9,429.4 282.4,430.3 283.8,427.9 285.7,434.6 288.1,417.4 290.5,423.7 292.4,409.2 294.8,425.1 297.7,430.8 299.6,420.2 300.6,424.8 302.0,417.0 304.9,427.0 307.3,428.4 309.2,434.6 312.6,421.3 315.5,438.5 318.3,440.8 319.8,434.6 321.2,434.2 323.1,428.4 325.5,414.1 326.5,414.7 327.6,417.4 328.4,417.4 329.3,434.6 330.6,428.4 331.7,433.7 334.1,438.5 336.5,424.1 337.9,427.5 339.9,420.9 341.3,422.7 343.2,420.5 345.6,428.8 347.5,417.8 349.4,437.0 352.3,417.0 353.8,429.4 355.7,434.6 358.1,434.6 359.5,425.1 361.9,431.8 363.8,425.1 367.2,436.5 369.1,440.0 370.5,440.0 372.5,433.7 374.4,435.1 376.8,448.0" fill="none" stroke="#ef6424" stroke-width="1.4" stroke-linejoin="round"/>
<line x1="271.3" y1="489.4" x2="271.3" y2="380.9" stroke="#222" stroke-width="1.2" />
<line x1="265.3" y1="488.9" x2="271.3" y2="488.9" stroke="#222" stroke-width="1.2" />
<text x="262.9" y="492.5" font-size="10.8" text-anchor="end" fill="#1a1a1a" stroke="#1a1a1a" stroke-width="0.12" >0</text>
<line x1="265.3" y1="462.0" x2="271.3" y2="462.0" stroke="#222" stroke-width="1.2" />
<text x="262.9" y="465.6" font-size="10.8" text-anchor="end" fill="#1a1a1a" stroke="#1a1a1a" stroke-width="0.12" >2</text>
<line x1="265.3" y1="435.1" x2="271.3" y2="435.1" stroke="#222" stroke-width="1.2" />
<text x="262.9" y="438.8" font-size="10.8" text-anchor="end" fill="#1a1a1a" stroke="#1a1a1a" stroke-width="0.12" >4</text>
<line x1="265.3" y1="408.3" x2="271.3" y2="408.3" stroke="#222" stroke-width="1.2" />
<text x="262.9" y="411.9" font-size="10.8" text-anchor="end" fill="#1a1a1a" stroke="#1a1a1a" stroke-width="0.12" >6</text>
<line x1="265.3" y1="381.4" x2="271.3" y2="381.4" stroke="#222" stroke-width="1.2" />
<text x="262.9" y="385.0" font-size="10.8" text-anchor="end" fill="#1a1a1a" stroke="#1a1a1a" stroke-width="0.12" >8</text>
<line x1="270.7" y1="488.9" x2="378.0" y2="488.9" stroke="#222" stroke-width="1.2" />
<line x1="271.5" y1="488.9" x2="271.5" y2="494.4" stroke="#222" stroke-width="1.2" />
<line x1="307.0" y1="488.9" x2="307.0" y2="494.4" stroke="#222" stroke-width="1.2" />
<line x1="342.5" y1="488.9" x2="342.5" y2="494.4" stroke="#222" stroke-width="1.2" />
<line x1="378.0" y1="488.9" x2="378.0" y2="494.4" stroke="#222" stroke-width="1.2" />
<text x="271.8" y="506.7" font-size="10.6" text-anchor="middle" fill="#1a1a1a" stroke="#1a1a1a" stroke-width="0.12" >-10</text>
<text x="307.3" y="506.7" font-size="10.6" text-anchor="middle" fill="#1a1a1a" stroke="#1a1a1a" stroke-width="0.12" >0</text>
<text x="342.8" y="506.7" font-size="10.6" text-anchor="middle" fill="#1a1a1a" stroke="#1a1a1a" stroke-width="0.12" >10</text>
<text x="378.3" y="506.7" font-size="10.6" text-anchor="middle" fill="#1a1a1a" stroke="#1a1a1a" stroke-width="0.12" >20</text>
<text x="325.2" y="517.5" font-size="11" text-anchor="middle" fill="#1a1a1a" stroke="#1a1a1a" stroke-width="0.12" >Time (sec)</text>
<text transform="translate(249.7,432.7) rotate(-90)" font-size="11.5" text-anchor="middle" fill="#1a1a1a" stroke="#1a1a1a" stroke-width="0.12">Velocity (cm/s)</text>
<text x="327.9" y="354.7" font-size="11.3" text-anchor="middle" fill="#1a1a1a" stroke="#1a1a1a" stroke-width="0.12" >K-iSPN ChR2</text>
<text x="332.9" y="369.8" font-size="11.3" text-anchor="middle" fill="#1a1a1a" stroke="#1a1a1a" stroke-width="0.12" >Const 0.25mW</text>
<rect x="441.0" y="382.2" width="16.7" height="106.7" fill="#c8e9fa" />
<rect x="428.8" y="412.1" width="9.6" height="76.8" fill="#e9dfbd" />
<rect x="444.8" y="412.8" width="9.7" height="76.1" fill="#ee5a24" />
<rect x="461.5" y="413.7" width="9.6" height="75.2" fill="#e9dfbd" />
<line x1="433.6" y1="395.2" x2="449.6" y2="396.1" stroke="#333" stroke-width="0.9" />
<line x1="433.6" y1="396.6" x2="449.6" y2="394.1" stroke="#333" stroke-width="0.9" />
<line x1="433.6" y1="398.2" x2="449.6" y2="414.4" stroke="#333" stroke-width="0.9" />
<line x1="433.6" y1="404.6" x2="449.6" y2="394.1" stroke="#333" stroke-width="0.9" />
<line x1="433.6" y1="424.0" x2="449.6" y2="421.7" stroke="#333" stroke-width="0.9" />
<line x1="433.6" y1="425.6" x2="449.6" y2="422.9" stroke="#333" stroke-width="0.9" />
<line x1="433.6" y1="435.2" x2="449.6" y2="436.8" stroke="#333" stroke-width="0.9" />
<line x1="449.6" y1="396.1" x2="465.7" y2="403.7" stroke="#333" stroke-width="0.9" />
<line x1="449.6" y1="394.1" x2="465.7" y2="394.1" stroke="#333" stroke-width="0.9" />
<line x1="449.6" y1="414.4" x2="465.7" y2="415.6" stroke="#333" stroke-width="0.9" />
<line x1="449.6" y1="394.1" x2="465.7" y2="411.2" stroke="#333" stroke-width="0.9" />
<line x1="449.6" y1="421.7" x2="465.7" y2="422.7" stroke="#333" stroke-width="0.9" />
<line x1="449.6" y1="422.9" x2="465.7" y2="414.2" stroke="#333" stroke-width="0.9" />
<line x1="449.6" y1="436.8" x2="465.7" y2="432.0" stroke="#333" stroke-width="0.9" />
<circle cx="433.6" cy="395.2" r="2.3" fill="#5a5a5a" />
<circle cx="433.6" cy="396.6" r="2.3" fill="#5a5a5a" />
<circle cx="433.6" cy="398.2" r="2.3" fill="#5a5a5a" />
<circle cx="433.6" cy="404.6" r="2.3" fill="#5a5a5a" />
<circle cx="433.6" cy="424.0" r="2.3" fill="#5a5a5a" />
<circle cx="433.6" cy="425.6" r="2.3" fill="#5a5a5a" />
<circle cx="433.6" cy="435.2" r="2.3" fill="#5a5a5a" />
<circle cx="449.6" cy="396.1" r="2.3" fill="#5a5a5a" />
<circle cx="449.6" cy="394.1" r="2.3" fill="#5a5a5a" />
<circle cx="449.6" cy="414.4" r="2.3" fill="#5a5a5a" />
<circle cx="449.6" cy="394.1" r="2.3" fill="#5a5a5a" />
<circle cx="449.6" cy="421.7" r="2.3" fill="#5a5a5a" />
<circle cx="449.6" cy="422.9" r="2.3" fill="#5a5a5a" />
<circle cx="449.6" cy="436.8" r="2.3" fill="#5a5a5a" />
<circle cx="465.7" cy="403.7" r="2.3" fill="#5a5a5a" />
<circle cx="465.7" cy="394.1" r="2.3" fill="#5a5a5a" />
<circle cx="465.7" cy="415.6" r="2.3" fill="#5a5a5a" />
<circle cx="465.7" cy="411.2" r="2.3" fill="#5a5a5a" />
<circle cx="465.7" cy="422.7" r="2.3" fill="#5a5a5a" />
<circle cx="465.7" cy="414.2" r="2.3" fill="#5a5a5a" />
<circle cx="465.7" cy="432.0" r="2.3" fill="#5a5a5a" />
<line x1="423.1" y1="489.4" x2="423.1" y2="381.7" stroke="#222" stroke-width="1.2" />
<line x1="417.1" y1="488.9" x2="423.1" y2="488.9" stroke="#222" stroke-width="1.2" />
<text x="414.7" y="492.5" font-size="10.8" text-anchor="end" fill="#1a1a1a" stroke="#1a1a1a" stroke-width="0.12" >0</text>
<line x1="417.1" y1="453.3" x2="423.1" y2="453.3" stroke="#222" stroke-width="1.2" />
<text x="414.7" y="456.9" font-size="10.8" text-anchor="end" fill="#1a1a1a" stroke="#1a1a1a" stroke-width="0.12" >2</text>
<line x1="417.1" y1="417.8" x2="423.1" y2="417.8" stroke="#222" stroke-width="1.2" />
<text x="414.7" y="421.4" font-size="10.8" text-anchor="end" fill="#1a1a1a" stroke="#1a1a1a" stroke-width="0.12" >4</text>
<line x1="417.1" y1="382.2" x2="423.1" y2="382.2" stroke="#222" stroke-width="1.2" />
<text x="414.7" y="385.8" font-size="10.8" text-anchor="end" fill="#1a1a1a" stroke="#1a1a1a" stroke-width="0.12" >6</text>
<line x1="422.5" y1="488.9" x2="475.9" y2="488.9" stroke="#222" stroke-width="1.2" />
<line x1="433.6" y1="488.9" x2="433.6" y2="494.4" stroke="#222" stroke-width="1.2" />
<line x1="449.6" y1="488.9" x2="449.6" y2="494.4" stroke="#222" stroke-width="1.2" />
<line x1="465.7" y1="488.9" x2="465.7" y2="494.4" stroke="#222" stroke-width="1.2" />
<text transform="translate(435.9,499.6) rotate(-45)" font-size="11" text-anchor="end" fill="#1a1a1a">Pre</text>
<text transform="translate(451.9,499.6) rotate(-45)" font-size="11" text-anchor="end" fill="#1a1a1a">Stim</text>
<text transform="translate(468.0,499.6) rotate(-45)" font-size="11" text-anchor="end" fill="#1a1a1a">Post</text>
<text x="450.5" y="372.6" font-size="11.3" text-anchor="middle" fill="#1a1a1a" stroke="#1a1a1a" stroke-width="0.12" >K-iSPN ChR2</text>
<text transform="translate(402.0,434.7) rotate(-90)" font-size="11.5" text-anchor="middle" fill="#1a1a1a" stroke="#1a1a1a" stroke-width="0.12">Velocity (cm/s)</text>
<rect x="536.1" y="382.2" width="16.6" height="106.6" fill="#c8e9fa" />
<rect x="524.3" y="430.2" width="9.6" height="58.6" fill="#d3d3d3" />
<rect x="540.0" y="433.7" width="9.9" height="55.1" fill="#a3a3a3" />
<rect x="555.9" y="428.4" width="9.6" height="60.4" fill="#d3d3d3" />
<line x1="529.1" y1="397.3" x2="545.1" y2="399.3" stroke="#333" stroke-width="0.9" />
<line x1="529.1" y1="418.1" x2="545.1" y2="420.9" stroke="#333" stroke-width="0.9" />
<line x1="529.1" y1="425.0" x2="545.1" y2="433.7" stroke="#333" stroke-width="0.9" />
<line x1="529.1" y1="438.9" x2="545.1" y2="447.9" stroke="#333" stroke-width="0.9" />
<line x1="529.1" y1="445.3" x2="545.1" y2="446.3" stroke="#333" stroke-width="0.9" />
<line x1="529.1" y1="453.3" x2="545.1" y2="449.5" stroke="#333" stroke-width="0.9" />
<line x1="545.1" y1="399.3" x2="561.0" y2="382.9" stroke="#333" stroke-width="0.9" />
<line x1="545.1" y1="420.9" x2="561.0" y2="412.0" stroke="#333" stroke-width="0.9" />
<line x1="545.1" y1="433.7" x2="561.0" y2="457.5" stroke="#333" stroke-width="0.9" />
<line x1="545.1" y1="447.9" x2="561.0" y2="436.4" stroke="#333" stroke-width="0.9" />
<line x1="545.1" y1="446.3" x2="561.0" y2="430.2" stroke="#333" stroke-width="0.9" />
<line x1="545.1" y1="449.5" x2="561.0" y2="447.9" stroke="#333" stroke-width="0.9" />
<circle cx="529.1" cy="397.3" r="2.3" fill="#5a5a5a" />
<circle cx="529.1" cy="418.1" r="2.3" fill="#5a5a5a" />
<circle cx="529.1" cy="425.0" r="2.3" fill="#5a5a5a" />
<circle cx="529.1" cy="438.9" r="2.3" fill="#5a5a5a" />
<circle cx="529.1" cy="445.3" r="2.3" fill="#5a5a5a" />
<circle cx="529.1" cy="453.3" r="2.3" fill="#5a5a5a" />
<circle cx="545.1" cy="399.3" r="2.3" fill="#5a5a5a" />
<circle cx="545.1" cy="420.9" r="2.3" fill="#5a5a5a" />
<circle cx="545.1" cy="433.7" r="2.3" fill="#5a5a5a" />
<circle cx="545.1" cy="447.9" r="2.3" fill="#5a5a5a" />
<circle cx="545.1" cy="446.3" r="2.3" fill="#5a5a5a" />
<circle cx="545.1" cy="449.5" r="2.3" fill="#5a5a5a" />
<circle cx="561.0" cy="382.9" r="2.3" fill="#5a5a5a" />
<circle cx="561.0" cy="412.0" r="2.3" fill="#5a5a5a" />
<circle cx="561.0" cy="457.5" r="2.3" fill="#5a5a5a" />
<circle cx="561.0" cy="436.4" r="2.3" fill="#5a5a5a" />
<circle cx="561.0" cy="430.2" r="2.3" fill="#5a5a5a" />
<circle cx="561.0" cy="447.9" r="2.3" fill="#5a5a5a" />
<line x1="518.5" y1="489.3" x2="518.5" y2="381.7" stroke="#222" stroke-width="1.2" />
<line x1="512.5" y1="488.8" x2="518.5" y2="488.8" stroke="#222" stroke-width="1.2" />
<text x="510.1" y="492.4" font-size="10.8" text-anchor="end" fill="#1a1a1a" stroke="#1a1a1a" stroke-width="0.12" >0</text>
<line x1="512.5" y1="453.3" x2="518.5" y2="453.3" stroke="#222" stroke-width="1.2" />
<text x="510.1" y="456.9" font-size="10.8" text-anchor="end" fill="#1a1a1a" stroke="#1a1a1a" stroke-width="0.12" >2</text>
<line x1="512.5" y1="417.7" x2="518.5" y2="417.7" stroke="#222" stroke-width="1.2" />
<text x="510.1" y="421.3" font-size="10.8" text-anchor="end" fill="#1a1a1a" stroke="#1a1a1a" stroke-width="0.12" >4</text>
<line x1="512.5" y1="382.2" x2="518.5" y2="382.2" stroke="#222" stroke-width="1.2" />
<text x="510.1" y="385.8" font-size="10.8" text-anchor="end" fill="#1a1a1a" stroke="#1a1a1a" stroke-width="0.12" >6</text>
<line x1="517.9" y1="488.8" x2="570.6" y2="488.8" stroke="#222" stroke-width="1.2" />
<line x1="529.1" y1="488.8" x2="529.1" y2="494.3" stroke="#222" stroke-width="1.2" />
<line x1="545.1" y1="488.8" x2="545.1" y2="494.3" stroke="#222" stroke-width="1.2" />
<line x1="561.0" y1="488.8" x2="561.0" y2="494.3" stroke="#222" stroke-width="1.2" />
<text transform="translate(531.4,499.2) rotate(-45)" font-size="11" text-anchor="end" fill="#1a1a1a">Pre</text>
<text transform="translate(547.4,499.2) rotate(-45)" font-size="11" text-anchor="end" fill="#1a1a1a">Stim</text>
<text transform="translate(563.3,499.2) rotate(-45)" font-size="11" text-anchor="end" fill="#1a1a1a">Post</text>
<text x="537.7" y="372.6" font-size="11.3" text-anchor="middle" fill="#1a1a1a" stroke="#1a1a1a" stroke-width="0.12" >K-iSPN YFP</text>
<text transform="translate(497.6,432.2) rotate(-90)" font-size="11.5" text-anchor="middle" fill="#1a1a1a" stroke="#1a1a1a" stroke-width="0.12">Velocity (cm/s)</text>
<path d="M14.6,88.4 C16,84 21,81.5 26.1,81.5 C30,81.5 34,83 37.6,87.6 C38,84 40,79 44.5,74.6 C49,71 55,69.5 69,68.4 C85,67 100,67.2 106,68.3 C115,69 120,69.3 124.4,71.3 C131,73.5 135,75.5 136.7,76.7 C139,79 140,82 139,84 C137,86 134,87 133,88.4 C134.5,90.5 136,90.7 138,90.5 C141,89 142,88.3 143.7,88.4 C146,89 148,91 149,92.2 C146,98 142,106 139.8,112.1 C145,104 151,96 156,92.2 C159,91 161,91 163,92 C166,94 168.5,97 169.8,101 C171,108 171,120 169.8,129 C168,132 165,132.5 163.6,132.5 C150,132 138,131.5 128.3,131.3 C126,130 125,128.5 124,127.5 C121,126 119,125.5 117,126.5 C112,127.5 108,127.5 104,127 C95,128.5 88,131 82.8,134.4 C78,135.5 75,135.3 72.1,135.2 C66,134 63,132 61.3,130.6 C57,126 55,124 53.7,122.9 C50,117 47,112 44.5,109 C42,106 40,103 38.3,101.4 C36,104 33,106 30.7,106 C26,104 22,100 15.3,92.2 C14.5,91 14.3,89.5 14.6,88.4 Z" fill="#e6e6e6" stroke="#3e3e3e" stroke-width="1.1"/>
<path d="M60,91.5 C65,89 71,87 76,86.3 C78,86.5 79,88.5 78.9,91.5 C79.5,95 79.7,99 79.5,103 C79.2,107 78,111 74.4,114.1 C73.8,115 73.5,115.8 73.2,116.6 C72,118.5 71,120 69.5,121.5 C68,123 66.5,124 65.2,124.6 C63.5,125.1 62,125.3 60.8,125.3 C62.5,126.8 64,128 65.2,128.9 C68.5,130 71.5,130.3 74.4,130.7 C75.5,131.2 76.2,131.8 76.3,132.5 C76,133.2 75.6,133.6 75,133.8 C72,134.5 69,135 66.5,135 C64,134.5 62,133.6 60.3,132.5 C58,131 56,129.5 54.2,127.6 C53,126 52.2,124.2 51.7,122.4 L52.4,122.1 C54.5,121.8 56.5,121.7 58.2,121.5 C57.7,118 57.2,114 57.1,110 C57.1,104 57.3,100 57.6,97.2 C58.2,94.5 59,92.5 60,91.5 Z" fill="#9a9a9a" stroke="#4a4a4a" stroke-width="0.9"/>
<path d="M93.8,85.5 C93,81 97,78.5 102,78 C107,77.5 112,78.3 115.5,81 C118,83 119,86 118,88 C116.5,89 114,88 112,87 C108,85 103,84.5 99,85.3 C97,86 95,87 93.8,85.5 Z" fill="none" stroke="#6a6a6a" stroke-width="0.8"/>
<path d="M97.5,85.8 C101,84.5 106,85 110,86.5 C113,87.8 114,89.5 112,90.2 C108,90.8 103,90.5 99,91" fill="none" stroke="#6a6a6a" stroke-width="0.8"/>
<path d="M99,88.5 C103,87.8 108,88.3 111,89.3" fill="none" stroke="#888" stroke-width="0.7"/>
<path d="M79.6,86.5 C81,85 84.5,83 88.2,82.1 C89.5,81.9 90.5,82.4 90.8,83.5 C91.3,86 91,89.5 89.2,93.6 C88,95.5 86.5,96.5 85.3,97.5 C84,98.5 82.8,99.5 81.5,100.4 C80.3,98 79.5,94 79.2,90 C79.2,88.5 79.3,87.3 79.6,86.5 Z" fill="#fff" stroke="#666" stroke-width="0.7"/>
<path d="M146.3,111.9 C148,111.5 149.5,110.5 150,108.5 C150.5,105 151,102 153,100.5 C155,100 154.5,104 154,106.5 C154.5,110 156,112.8 158,112.5 C160,111 160.5,106 160.5,102 C160.5,99 161,96.5 162,95 M163.5,97.5 C163.5,101 164,104 164.5,106 C165,103 166,100.5 167,99.5 M165.5,106 C166,109 167,111 168.5,111.5 M161.9,113.7 C160.8,116 160.8,119 161.9,122 C163,124 164.5,125 166,126 M153.6,122 C156,123.5 159,125 161.5,126 C163,126.8 164,127.2 165,127.8" fill="none" stroke="#777" stroke-width="1.9" stroke-linecap="round"/>
<path d="M146.3,111.9 C148,111.5 149.5,110.5 150,108.5 C150.5,105 151,102 153,100.5 C155,100 154.5,104 154,106.5 C154.5,110 156,112.8 158,112.5 C160,111 160.5,106 160.5,102 C160.5,99 161,96.5 162,95 M163.5,97.5 C163.5,101 164,104 164.5,106 C165,103 166,100.5 167,99.5 M165.5,106 C166,109 167,111 168.5,111.5 M161.9,113.7 C160.8,116 160.8,119 161.9,122 C163,124 164.5,125 166,126 M153.6,122 C156,123.5 159,125 161.5,126 C163,126.8 164,127.2 165,127.8" fill="none" stroke="#e6e6e6" stroke-width="0.8" stroke-linecap="round"/>
<path d="M108,117 C115,114 120,113 124,112 C122,115 118,117 112,118 Z" fill="#555"/>
<path d="M104,121 C110,119 117,118 121,117.5 C119,120 114,122 106,122.5 Z" fill="#9a9a9a"/>
<ellipse cx="89" cy="118" rx="2" ry="1.5" fill="#aaa"/>
<ellipse cx="66.8" cy="92" rx="1.8" ry="0.9" fill="#ec7a45"/>
<ellipse cx="69.7" cy="95" rx="1.8" ry="1" fill="#ec7a45"/>
<ellipse cx="64.5" cy="100.7" rx="1" ry="1.7" fill="#ec7a45"/>
<ellipse cx="68" cy="102.4" rx="1.4" ry="0.8" fill="#ec7a45"/>
<ellipse cx="62.2" cy="109.9" rx="0.9" ry="1.7" fill="#ec7a45"/>
<path d="M66.8,92 Q71.69999999999999,101.0 76.6,107" fill="none" stroke="#ec7a45" stroke-width="0.45"/>
<path d="M69.7,95 Q73.15,102.5 76.6,107" fill="none" stroke="#ec7a45" stroke-width="0.45"/>
<path d="M64.5,100.7 Q70.55,105.35 76.6,107" fill="none" stroke="#ec7a45" stroke-width="0.45"/>
<path d="M68,102.4 Q72.3,106.2 76.6,107" fill="none" stroke="#ec7a45" stroke-width="0.45"/>
<path d="M62.2,109.9 Q69.4,109.95 76.6,107" fill="none" stroke="#ec7a45" stroke-width="0.45"/>
<defs><linearGradient id="cone" x1="0" y1="0" x2="0" y2="1"><stop offset="0" stop-color="#6fd0ea"/><stop offset="1" stop-color="#d6f2fa" stop-opacity="0.6"/></linearGradient><linearGradient id="cone2" x1="1" y1="0" x2="0" y2="0"><stop offset="0" stop-color="#ffffff" stop-opacity="0"/><stop offset="0.35" stop-color="#aee8f8"/><stop offset="1" stop-color="#37b6e6"/></linearGradient></defs>
<defs><linearGradient id="coneA" x1="0" y1="0" x2="1" y2="0.4"><stop offset="0" stop-color="#3f8f9c"/><stop offset="0.55" stop-color="#6fd0e6"/><stop offset="1" stop-color="#d8f4fb" stop-opacity="0.6"/></linearGradient></defs>
<path d="M81.2,101.3 L74.3,113.3 L89.3,113.9 Z" fill="url(#coneA)"/>
<path d="M76,113.3 C77.5,112.8 80,112.8 81.8,113.5 C81.6,115.5 80.5,117.5 78.5,118.5 C77,118.6 76,117.5 75.8,116 Z" fill="#ee6a30"/>
<path d="M74.5,112.5 C77,110 80,109.8 82.5,111.5 L81.8,113.5 C80,112.8 77.5,112.8 76,113.3 Z" fill="#c09a90" opacity="0.7"/>
<line x1="61.3" y1="64.0" x2="61.3" y2="93.0" stroke="#222" stroke-width="0.9" />
<line x1="69.8" y1="61.0" x2="69.8" y2="87.6" stroke="#888" stroke-width="1.1" />
<rect x="58.9" y="38.3" width="5.8" height="1.7" fill="#111" />
<rect x="60.4" y="40.0" width="2.8" height="3.6" fill="#d0d0d0" stroke="#111" stroke-width="0.6"/>
<rect x="58.9" y="43.6" width="5.8" height="1.6" fill="#111" />
<rect x="59.5" y="45.2" width="4.6" height="18.6" fill="#e8e8e8" stroke="#111" stroke-width="0.9"/>
<rect x="60.0" y="53.7" width="3.6" height="9.6" fill="#e8602a" />
<rect x="61.3" y="45.2" width="1.0" height="8.5" fill="#888" />
<line x1="61.8" y1="63.8" x2="61.8" y2="65.3" stroke="#111" stroke-width="1.6" />
<rect x="67.1" y="35.2" width="5.8" height="1.7" fill="#111" />
<rect x="68.6" y="36.9" width="2.8" height="3.6" fill="#d0d0d0" stroke="#111" stroke-width="0.6"/>
<rect x="67.1" y="40.5" width="5.8" height="1.6" fill="#111" />
<rect x="67.7" y="42.1" width="4.6" height="18.9" fill="#e8e8e8" stroke="#111" stroke-width="0.9"/>
<rect x="68.2" y="50.0" width="3.6" height="10.5" fill="#e8602a" />
<rect x="69.5" y="42.1" width="1.0" height="7.9" fill="#888" />
<line x1="70.0" y1="61.0" x2="70.0" y2="62.5" stroke="#111" stroke-width="1.6" />
<line x1="80.8" y1="27.0" x2="80.8" y2="100.8" stroke="#111" stroke-width="1.4" />
<rect x="78.1" y="33.0" width="5.7" height="13.8" fill="#151515" />
<path d="M80.8,27.5 C81,24 84,22 88,20.5 C91,19.3 94,18.5 95.6,16" fill="none" stroke="#222" stroke-width="0.8"/>
<text x="90.7" y="35.1" font-size="10.15" text-anchor="start" fill="#1a1a1a" stroke="#1a1a1a" stroke-width="0.12" >Optical fiber</text>
<text x="8.8" y="30.8" font-size="10.6" text-anchor="start" fill="#e8703a"  >AAV-ConFon</text>
<text x="8.8" y="43.0" font-size="10.6" text-anchor="start" fill="#e8703a"  >-ChR2 or</text>
<text x="8.8" y="55.3" font-size="10.6" text-anchor="start" fill="#e8703a"  >-YFP</text>
<text x="36.9" y="98.8" font-size="10.2" text-anchor="start" fill="#1a1a1a" stroke="#1a1a1a" stroke-width="0.12" >dStr</text>
<text x="87.8" y="109.7" font-size="10.45" text-anchor="start" fill="#1a1a1a" stroke="#1a1a1a" stroke-width="0.12" >GPe</text>
<text x="33.4" y="151.5" font-size="11.7" font-style="italic" fill="#1a1a1a">Kremen1<tspan font-size="6.4" font-style="normal" dx="0.6" dy="-4.3">2A-Cre</tspan><tspan dy="4.3">;A2a</tspan><tspan font-size="6.4" font-style="normal" dx="0.4" dy="-4.3">2A-Flp</tspan></text>
<rect x="173.4" y="32.5" width="93.7" height="41.7" rx="5" fill="#fff" stroke="#333" stroke-width="0.9"/>
<line x1="220.0" y1="32.5" x2="220.0" y2="74.2" stroke="#333" stroke-width="0.9" />
<circle cx="198.2" cy="57.9" r="12.2" fill="#d3d3d3" />
<circle cx="243.7" cy="57.9" r="12.5" fill="#ec7a45" />
<text x="197.6" y="44.6" font-size="10.8" text-anchor="middle" fill="#1a1a1a" stroke="#1a1a1a" stroke-width="0.12" >C-dSPN</text>
<text x="197.6" y="61.2" font-size="10.8" text-anchor="middle" fill="#1a1a1a" stroke="#1a1a1a" stroke-width="0.12" >K-dSPN</text>
<text x="243.0" y="44.6" font-size="10.8" text-anchor="middle" fill="#1a1a1a" stroke="#1a1a1a" stroke-width="0.12" >C-iSPN</text>
<text x="243.0" y="61.2" font-size="10.8" text-anchor="middle" fill="#1a1a1a" stroke="#1a1a1a" stroke-width="0.12" >K-iSPN</text>
<text x="241.9" y="28.6" font-size="10.8" text-anchor="middle" fill="#ec7a45"  >ChR2</text>
<line x1="243.7" y1="70.3" x2="243.7" y2="85.4" stroke="#ec7a45" stroke-width="1.2" />
<line x1="239.5" y1="85.4" x2="248.0" y2="85.4" stroke="#ec7a45" stroke-width="1.2" />
<defs><linearGradient id="cone3" gradientUnits="userSpaceOnUse" x1="277.7" y1="75.3" x2="252" y2="97"><stop offset="0" stop-color="#5fd0ee"/><stop offset="1" stop-color="#e6f7fc" stop-opacity="0.3"/></linearGradient></defs>
<path d="M277.7,75.3 L246.1,81.6 L261.4,109.5 Z" fill="url(#cone3)"/>
<rect x="230.7" y="86.3" width="24.1" height="21.1" rx="8" fill="#ec7a45"/>
<text x="242.8" y="101.0" font-size="10.8" text-anchor="middle" fill="#1a1a1a" stroke="#1a1a1a" stroke-width="0.12" >GPe</text>
<rect x="277.8" y="70.3" width="9.5" height="4.7" fill="#2b2b96" transform="rotate(-31 282.5 72.6)"/>
<line x1="198.2" y1="70.0" x2="198.2" y2="131.8" stroke="#777" stroke-width="1.1" />
<line x1="198.2" y1="110.0" x2="210.4" y2="110.0" stroke="#777" stroke-width="1.1" />
<line x1="198.2" y1="131.8" x2="210.4" y2="131.8" stroke="#777" stroke-width="1.1" />
<line x1="210.4" y1="106.4" x2="210.4" y2="113.6" stroke="#777" stroke-width="1.1" />
<line x1="210.4" y1="128.2" x2="210.4" y2="135.4" stroke="#777" stroke-width="1.1" />
<rect x="211.5" y="101" width="21.8" height="18" rx="8.5" fill="#d8d8d8"/>
<rect x="210.5" y="123" width="39" height="18.6" rx="9" fill="#d8d8d8"/>
<text x="222.2" y="114.0" font-size="10.8" text-anchor="middle" fill="#1a1a1a" stroke="#1a1a1a" stroke-width="0.12" >EPN</text>
<text x="230.0" y="136.0" font-size="10.8" text-anchor="middle" fill="#1a1a1a" stroke="#1a1a1a" stroke-width="0.12" >SNc/SNr</text>
<defs><filter id="bl" x="-10%" y="-10%" width="120%" height="120%"><feGaussianBlur stdDeviation="0.7"/></filter><filter id="bl2" x="-20%" y="-20%" width="140%" height="140%"><feGaussianBlur stdDeviation="1.4"/></filter><filter id="bl3" x="-20%" y="-20%" width="140%" height="140%"><feGaussianBlur stdDeviation="0.45"/></filter><filter id="speck" x="0" y="0" width="1" height="1" color-interpolation-filters="sRGB"><feTurbulence type="fractalNoise" baseFrequency="0.6" numOctaves="2" seed="4"/><feColorMatrix type="matrix" values="0 0 0 0 0  0 0 0 0 0  0 0 0 0 0  -2.6 0 0 0 1.35"/></filter><filter id="speck2" x="0" y="0" width="1" height="1" color-interpolation-filters="sRGB"><feTurbulence type="fractalNoise" baseFrequency="0.6" numOctaves="2" seed="9"/><feColorMatrix type="matrix" values="0 0 0 0 0.12  0 0 0 0 0.12  0 0 0 0 1  2.6 0 0 0 -1.3"/></filter><clipPath id="cb"><rect x="3" y="196.4" width="194" height="115.6"/></clipPath><clipPath id="cc1"><rect x="2.2" y="352.3" width="97.1" height="146"/></clipPath><clipPath id="cc2"><rect x="100.8" y="352.3" width="96.4" height="96"/></clipPath><clipPath id="cc3"><rect x="100.8" y="449.6" width="96.4" height="48.1"/></clipPath><clipPath id="redclip"><path id="redp" d="M45.2,242.2 C47,240 49,238.6 51.5,237.6 C55,236 58,235 60.7,234.2 C64,233.3 66,232.8 68.7,232.5 C72,232 75,231.5 76.8,231.3 C79,231.2 80.5,231.4 81.4,231.9 C82.6,233.5 83,235 83.1,236.5 C83.5,240 83.7,244 83.7,248 C83.5,250.5 83,253 82.5,254.9 C80,256 78.5,257.5 77.9,259.5 C77.3,263 77,267 76.8,271 C76.5,275 76,279 75.6,282.5 C74,285.5 71,287 67.8,288.4 C66,290.5 64.5,292.5 62.7,294.5 L60,297 L50,291 L46.9,282.5 C45.8,279 45.3,276 45.2,273.3 C44.8,268 44.6,264 44.6,259.5 C44.6,253 44.8,247 45.2,242.2 Z"/></clipPath></defs>
<rect x="3.0" y="196.4" width="194.0" height="115.6" fill="#000" />
<g clip-path="url(#cb)">
<g filter="url(#bl)">
<path d="M2,232 L3.4,228.3 L11.5,224.9 L14.9,222 L23,218.6 L34.5,215.7 L46,213.4 L55.2,210 L59.8,208.2 L66.7,206.5 L75,206 L81.3,206.8 L87.9,200.3 L99.7,198.3 L119.4,198.3 L135.2,200.9 L148.3,205.5 L157.5,213.4 L160.8,220 L158.8,225.2 L163,221.8 L172.3,221 L180,223.4 L183,224.5 L190,223 L199,223 L199,314 L157.8,314 L157.1,300.2 L155.2,292.3 L152.5,283.1 L150.6,275.9 L148.6,277.9 L143.3,283.8 L136.8,288.4 L127.6,293 L114.4,297.6 L101.3,302.9 L89.5,308.1 L82.9,310.7 L80,314 L60.7,310.4 L50.4,303.7 L41.2,290.4 L30,281.2 L21.9,271.9 L14,260 L8,256 L2,255 Z" fill="#120b5a"/>
<rect x="3" y="196" width="14" height="118" fill="#4a40ff" opacity="0.035"/>
<rect x="17" y="196" width="14" height="118" fill="#000" opacity="0.035"/>
<rect x="31" y="196" width="14" height="118" fill="#4a40ff" opacity="0.035"/>
<rect x="45" y="196" width="14" height="118" fill="#000" opacity="0.035"/>
<rect x="59" y="196" width="14" height="118" fill="#4a40ff" opacity="0.035"/>
<rect x="73" y="196" width="14" height="118" fill="#000" opacity="0.035"/>
<rect x="87" y="196" width="14" height="118" fill="#4a40ff" opacity="0.035"/>
<rect x="101" y="196" width="14" height="118" fill="#000" opacity="0.035"/>
<rect x="115" y="196" width="14" height="118" fill="#4a40ff" opacity="0.035"/>
<rect x="129" y="196" width="14" height="118" fill="#000" opacity="0.035"/>
<rect x="143" y="196" width="14" height="118" fill="#4a40ff" opacity="0.035"/>
<rect x="157" y="196" width="14" height="118" fill="#000" opacity="0.035"/>
<rect x="171" y="196" width="14" height="118" fill="#4a40ff" opacity="0.035"/>
<rect x="185" y="196" width="14" height="118" fill="#000" opacity="0.035"/>
<path d="M14.9,222 L23,218.6 L34.5,215.7 L46,213.4 L55.2,210 L66.7,206.5 L81.3,206.8 L87.9,200.3 L99.7,198.3 L119.4,198.3 L135.2,200.9 L148.3,205.5 L157.5,213.4 L160.8,220" fill="none" stroke="#3a30e0" stroke-width="1.2"/>
<circle cx="58.3" cy="222.3" r="3" fill="#000"/>
<path d="M83,229 C85,227.5 88,227 90.5,228 C91,234 90.5,242 88.5,248 C86.5,246 84.5,241 83.5,236 Z" fill="#000"/>
<path d="M156,222.5 C150,219.5 142,217.5 135,216.8 C126,215.8 116,215.5 107,217.5 C100,219.5 95.5,223.5 94.5,229 C95,234 99.5,237.5 106.3,238 C113,238.5 119,237.8 124,236.8 C130,235.5 135,233.5 139,230.5" fill="none" stroke="#3a34e8" stroke-width="3.4"/>
<path d="M156,222.5 C150,219.5 142,217.5 135,216.8 C126,215.8 116,215.5 107,217.5 C100,219.5 95.5,223.5 94.5,229 C95,234 99.5,237.5 106.3,238 C113,238.5 119,237.8 124,236.8 C130,235.5 135,233.5 139,230.5" fill="none" stroke="#07042e" stroke-width="2.0"/>
<path d="M102.5,230.8 C106,228.5 112,228.2 118,229 C122,229.6 124.5,230.6 125,232.2 C122,233 116,232.8 110,232.2 C106,231.8 104,231.5 102.5,230.8 Z" fill="#4a40ff"/>
<path d="M108.9,235.2 C113,234 119,233.8 123.4,234.3" fill="none" stroke="#4a40ff" stroke-width="1"/>
<path d="M140,226 C146,224 152,222 157,220" fill="none" stroke="#4a40ff" stroke-width="1"/>
<path d="M37.5,244 C35,246 33,249 30,251.5 M31,251 C33,252 36,252 38.5,251" fill="none" stroke="#4a3cff" stroke-width="1.5"/>
<path d="M181,223.5 C183,226 183.5,230 183,234 C182,240 180,246 177.5,251 C177,253 176.5,255 176,256 L174.5,256.5 C175,252 176,248 178.5,242 C180.5,236 181,229 181,223.5 Z" fill="#06033a"/>
<path d="M184.5,226.5 C187,224.3 192,223.4 197,223.6 L197,236.5 C195,238.5 193.6,240.5 192.6,243.5 C191.4,247.5 189,251.5 185.5,255 C183.5,257 181,258.3 179.3,258.2 C178,257.6 178.6,255.3 180.2,253.8 C183,251 185.3,248 186.2,244.5 C187,241 186.6,237 185.8,233.5 C185,231 184.4,228.5 184.5,226.5 Z" fill="#4444ff"/>
<path d="M2,231 C5,229.5 8,231 10,233.5 C12,236 15,238 16.5,241 C18.5,244.5 19,249 17.5,252.5 C15,255 10,255.5 6,254.5 C4,254 2.5,253.5 2,253 Z" fill="#4236e8"/>
<path d="M6,238 C8.5,236.5 11,238 11.5,241.5 C11,244.5 8.5,246 6.8,244.5 Z" fill="#2a1ea8"/>
<ellipse cx="19" cy="230.6" rx="1.3" ry="2.2" fill="#e0309a"/>
<ellipse cx="20" cy="241.8" rx="1.3" ry="1.8" fill="#e02a70"/>
<path d="M8,224 C10,223 12,225 12.6,228 C11,229 9,228 8,224 Z" fill="#802050"/>
<path d="M89.5,307.6 L101.3,302.4 L114.4,297.1 L127.6,292.5 L136.8,287.9 L143.3,283.3 L148.6,277.4" fill="none" stroke="#3428d8" stroke-width="1.1"/>
<path d="M33,274 C37,279 41,284 44.3,287.4" fill="none" stroke="#3a30e0" stroke-width="1.2"/>
<use href="#redp" fill="#da3058"/>
<path d="M42.3,289.4 C43.5,288.6 44.5,288.3 45.3,288.4 C49,291 52,293.5 55.5,295.5 C59,297.8 62,299.6 65.8,300.7 C70,301.8 74,302.2 78,302.7 C79,304 79.3,305.5 79,306.8 C78,308 76.5,308.8 75,309.3 C70,309.6 65,309.6 60.7,309.3 C57,308.2 54.5,307.2 52.5,305.8 C50,303.8 47.5,301.8 45.3,299.6 C43.5,297.5 42.5,295.5 42.3,293.5 Z" fill="#ff2238"/>
<path d="M53.5,296 C55.5,295 58,296.5 59.6,298.5 C59,300.5 57.5,303 55.5,303.7 C54.3,302 53.5,299 53.5,296 Z" fill="#4030c0"/>
<path d="M66,300.5 C70,301.5 74,302 77,303" fill="none" stroke="#b01850" stroke-width="0.6"/>
</g>
<g clip-path="url(#redclip)"><g filter="url(#bl3)">
<circle cx="51.3" cy="244.6" r="0.9" fill="#c0e040" opacity="0.85"/>
<circle cx="61.2" cy="238.2" r="1.0" fill="#a8d840" opacity="0.46"/>
<circle cx="75.8" cy="234.2" r="1.2" fill="#c0e040" opacity="0.73"/>
<circle cx="60.0" cy="250.2" r="0.9" fill="#d0d050" opacity="0.46"/>
<circle cx="56.5" cy="236.4" r="1.4" fill="#80d040" opacity="0.46"/>
<circle cx="69.7" cy="235.1" r="0.5" fill="#c0e040" opacity="0.67"/>
<circle cx="57.0" cy="237.0" r="0.5" fill="#c0e040" opacity="0.48"/>
<circle cx="52.3" cy="246.6" r="1.1" fill="#a8d840" opacity="0.50"/>
<circle cx="61.2" cy="238.0" r="1.3" fill="#d0d050" opacity="0.57"/>
<circle cx="76.5" cy="236.0" r="0.9" fill="#80d040" opacity="0.46"/>
<circle cx="49.0" cy="250.4" r="0.9" fill="#d0d050" opacity="0.48"/>
<circle cx="65.2" cy="240.2" r="0.8" fill="#a8d840" opacity="0.52"/>
<circle cx="51.4" cy="242.3" r="0.8" fill="#80d040" opacity="0.55"/>
<circle cx="51.4" cy="239.1" r="0.9" fill="#c0e040" opacity="0.72"/>
<circle cx="67.6" cy="251.1" r="0.9" fill="#c0e040" opacity="0.83"/>
<circle cx="64.9" cy="242.9" r="0.8" fill="#c0e040" opacity="0.82"/>
<circle cx="53.9" cy="240.5" r="0.9" fill="#d0d050" opacity="0.47"/>
<circle cx="55.2" cy="246.6" r="0.5" fill="#c0e040" opacity="0.52"/>
<circle cx="48.2" cy="242.3" r="1.4" fill="#d0d050" opacity="0.47"/>
<circle cx="50.5" cy="247.8" r="0.9" fill="#c0e040" opacity="0.81"/>
<circle cx="57.7" cy="236.2" r="1.2" fill="#d0d050" opacity="0.68"/>
<circle cx="73.2" cy="236.5" r="0.7" fill="#a8d840" opacity="0.60"/>
<circle cx="50.0" cy="239.8" r="0.8" fill="#c0e040" opacity="0.79"/>
<circle cx="64.7" cy="236.3" r="1.4" fill="#c0e040" opacity="0.50"/>
<circle cx="49.0" cy="236.2" r="0.9" fill="#c0e040" opacity="0.48"/>
<circle cx="49.8" cy="237.8" r="1.3" fill="#d0d050" opacity="0.65"/>
<circle cx="53.0" cy="236.3" r="0.8" fill="#a8d840" opacity="0.69"/>
<circle cx="62.2" cy="235.4" r="1.3" fill="#d0d050" opacity="0.64"/>
<circle cx="48.0" cy="238.9" r="1.1" fill="#80d040" opacity="0.84"/>
<circle cx="65.4" cy="237.8" r="0.6" fill="#80d040" opacity="0.78"/>
<circle cx="71.7" cy="239.0" r="1.0" fill="#a8d840" opacity="0.65"/>
<circle cx="69.5" cy="239.7" r="1.1" fill="#c0e040" opacity="0.48"/>
<circle cx="72.1" cy="240.3" r="0.8" fill="#d0d050" opacity="0.49"/>
<circle cx="48.4" cy="237.4" r="1.2" fill="#d0d050" opacity="0.65"/>
<circle cx="76.3" cy="242.5" r="0.9" fill="#d0d050" opacity="0.80"/>
<circle cx="48.3" cy="236.6" r="0.5" fill="#80d040" opacity="0.73"/>
<circle cx="72.2" cy="240.0" r="0.7" fill="#d0d050" opacity="0.58"/>
<circle cx="53.3" cy="247.6" r="0.5" fill="#c0e040" opacity="0.65"/>
<circle cx="68.9" cy="247.6" r="1.1" fill="#80d040" opacity="0.55"/>
<circle cx="75.3" cy="237.7" r="1.2" fill="#a8d840" opacity="0.51"/>
<circle cx="52.5" cy="248.3" r="0.6" fill="#c0e040" opacity="0.48"/>
<circle cx="55.7" cy="249.3" r="0.9" fill="#a8d840" opacity="0.85"/>
<circle cx="51.3" cy="241.7" r="0.8" fill="#c0e040" opacity="0.55"/>
<circle cx="76.4" cy="234.5" r="1.3" fill="#c0e040" opacity="0.81"/>
<circle cx="62.2" cy="237.8" r="1.1" fill="#c0e040" opacity="0.83"/>
<circle cx="60.9" cy="240.1" r="0.8" fill="#c0e040" opacity="0.72"/>
<circle cx="65.9" cy="236.0" r="0.7" fill="#80d040" opacity="0.77"/>
<circle cx="75.9" cy="233.2" r="1.0" fill="#a8d840" opacity="0.61"/>
<circle cx="60.1" cy="243.7" r="1.3" fill="#c0e040" opacity="0.49"/>
<circle cx="55.9" cy="243.4" r="0.8" fill="#c0e040" opacity="0.68"/>
<circle cx="75.2" cy="240.3" r="0.8" fill="#d0d050" opacity="0.61"/>
<circle cx="63.7" cy="238.0" r="1.3" fill="#d0d050" opacity="0.80"/>
<circle cx="46.6" cy="237.4" r="1.3" fill="#c0e040" opacity="0.51"/>
<circle cx="61.9" cy="240.2" r="0.9" fill="#80d040" opacity="0.51"/>
<circle cx="50.9" cy="239.6" r="0.5" fill="#a8d840" opacity="0.72"/>
<circle cx="52.0" cy="237.4" r="0.8" fill="#80d040" opacity="0.47"/>
<circle cx="47.2" cy="243.1" r="1.1" fill="#c0e040" opacity="0.46"/>
<circle cx="53.4" cy="237.4" r="0.7" fill="#c0e040" opacity="0.74"/>
<circle cx="62.8" cy="235.8" r="0.7" fill="#a8d840" opacity="0.74"/>
<circle cx="65.4" cy="242.3" r="0.5" fill="#80d040" opacity="0.65"/>
<circle cx="51.2" cy="249.6" r="1.3" fill="#a8d840" opacity="0.54"/>
<circle cx="70.9" cy="243.1" r="1.3" fill="#80d040" opacity="0.61"/>
<circle cx="76.1" cy="247.8" r="0.5" fill="#80d040" opacity="0.52"/>
<circle cx="54.5" cy="235.7" r="1.2" fill="#c0e040" opacity="0.82"/>
<circle cx="63.2" cy="238.1" r="1.4" fill="#80d040" opacity="0.76"/>
<circle cx="69.7" cy="240.1" r="0.6" fill="#d0d050" opacity="0.69"/>
<circle cx="57.3" cy="246.8" r="1.0" fill="#a8d840" opacity="0.81"/>
<circle cx="76.5" cy="247.7" r="1.2" fill="#a8d840" opacity="0.54"/>
<circle cx="63.0" cy="241.8" r="0.8" fill="#c0e040" opacity="0.55"/>
<circle cx="59.6" cy="244.8" r="1.2" fill="#c0e040" opacity="0.55"/>
<circle cx="59.8" cy="238.5" r="0.7" fill="#d0d050" opacity="0.53"/>
<circle cx="71.3" cy="236.4" r="0.8" fill="#c0e040" opacity="0.74"/>
<circle cx="77.8" cy="235.7" r="0.5" fill="#80d040" opacity="0.68"/>
<circle cx="77.9" cy="233.6" r="1.2" fill="#d0d050" opacity="0.72"/>
<circle cx="46.9" cy="238.8" r="0.8" fill="#80d040" opacity="0.61"/>
<circle cx="66.1" cy="242.4" r="1.3" fill="#a8d840" opacity="0.60"/>
<circle cx="54.0" cy="247.9" r="1.3" fill="#c0e040" opacity="0.69"/>
<circle cx="56.7" cy="247.9" r="0.7" fill="#c0e040" opacity="0.51"/>
<circle cx="72.6" cy="236.9" r="0.8" fill="#c0e040" opacity="0.66"/>
<circle cx="50.3" cy="243.6" r="0.5" fill="#80d040" opacity="0.82"/>
<circle cx="62.7" cy="234.6" r="0.8" fill="#80d040" opacity="0.73"/>
<circle cx="59.2" cy="237.1" r="1.1" fill="#a8d840" opacity="0.85"/>
<circle cx="53.4" cy="242.5" r="1.0" fill="#80d040" opacity="0.62"/>
<circle cx="46.7" cy="239.1" r="0.9" fill="#d0d050" opacity="0.70"/>
<circle cx="60.6" cy="237.0" r="1.2" fill="#a8d840" opacity="0.79"/>
<circle cx="74.7" cy="246.1" r="1.3" fill="#a8d840" opacity="0.59"/>
<circle cx="50.9" cy="236.0" r="1.1" fill="#80d040" opacity="0.54"/>
<circle cx="47.5" cy="236.9" r="1.1" fill="#c0e040" opacity="0.54"/>
<circle cx="49.6" cy="237.3" r="0.9" fill="#a8d840" opacity="0.53"/>
<circle cx="68.4" cy="234.7" r="0.7" fill="#a8d840" opacity="0.55"/>
<line x1="57.7" y1="240.1" x2="75.1" y2="230.3" stroke="#2a0638" stroke-width="1.1" opacity="0.8"/>
<line x1="59.6" y1="243.5" x2="79.2" y2="232.5" stroke="#2a0638" stroke-width="1.1" opacity="0.8"/>
<line x1="61.5" y1="246.9" x2="83.3" y2="234.6" stroke="#2a0638" stroke-width="1.1" opacity="0.8"/>
<line x1="63.4" y1="250.3" x2="87.4" y2="236.8" stroke="#2a0638" stroke-width="1.1" opacity="0.8"/>
<line x1="65.3" y1="253.7" x2="91.4" y2="239.0" stroke="#2a0638" stroke-width="1.1" opacity="0.8"/>
<line x1="67.3" y1="257.1" x2="95.5" y2="241.1" stroke="#2a0638" stroke-width="1.1" opacity="0.8"/>
<line x1="69.2" y1="260.5" x2="99.6" y2="243.3" stroke="#2a0638" stroke-width="1.1" opacity="0.8"/>
<path d="M50,270 C55,268 60,275 58,282 M62,262 C66,265 70,262 72,268" fill="none" stroke="#8a2060" stroke-width="1" opacity="0.6"/>
</g></g>
<path d="M78,254 C81,255 84,259 85.5,264 C86,269 85,274 82.5,278 C80.5,278 79,276 78.3,272 C77.8,266 77.8,259 78,254 Z" fill="#4cc040" opacity="0.7" filter="url(#bl2)"/>
<g filter="url(#bl3)">
<circle cx="82.5" cy="268.7" r="0.9" fill="#70e050" opacity="0.8"/>
<circle cx="82.2" cy="275.7" r="1.0" fill="#70e050" opacity="0.8"/>
<circle cx="81.3" cy="255.6" r="1.0" fill="#70e050" opacity="0.8"/>
<circle cx="83.3" cy="269.3" r="0.5" fill="#70e050" opacity="0.8"/>
<circle cx="79.8" cy="265.3" r="0.7" fill="#70e050" opacity="0.8"/>
<circle cx="78.5" cy="267.6" r="0.5" fill="#70e050" opacity="0.8"/>
<circle cx="83.7" cy="261.1" r="0.9" fill="#70e050" opacity="0.8"/>
<circle cx="83.1" cy="258.5" r="0.5" fill="#70e050" opacity="0.8"/>
<circle cx="79.1" cy="268.6" r="0.4" fill="#70e050" opacity="0.8"/>
<circle cx="79.4" cy="274.2" r="0.5" fill="#70e050" opacity="0.8"/>
<circle cx="82.9" cy="276.6" r="0.6" fill="#70e050" opacity="0.8"/>
<circle cx="81.1" cy="276.2" r="0.8" fill="#70e050" opacity="0.8"/>
<circle cx="83.8" cy="259.5" r="0.8" fill="#70e050" opacity="0.8"/>
<circle cx="83.1" cy="276.3" r="0.6" fill="#70e050" opacity="0.8"/>
<circle cx="79.5" cy="262.9" r="0.5" fill="#70e050" opacity="0.8"/>
<circle cx="80.4" cy="256.4" r="0.8" fill="#70e050" opacity="0.8"/>
<circle cx="82.5" cy="255.1" r="0.6" fill="#70e050" opacity="0.8"/>
<circle cx="83.1" cy="261.8" r="0.7" fill="#70e050" opacity="0.8"/>
<circle cx="81.2" cy="261.9" r="0.8" fill="#70e050" opacity="0.8"/>
<circle cx="84.1" cy="256.3" r="0.4" fill="#70e050" opacity="0.8"/>
<circle cx="83.0" cy="271.5" r="0.4" fill="#70e050" opacity="0.8"/>
<circle cx="80.3" cy="272.3" r="0.7" fill="#70e050" opacity="0.8"/>
<circle cx="79.1" cy="255.2" r="0.5" fill="#70e050" opacity="0.8"/>
<circle cx="79.3" cy="276.0" r="0.9" fill="#70e050" opacity="0.8"/>
<circle cx="83.4" cy="275.5" r="0.6" fill="#70e050" opacity="0.8"/>
<circle cx="81.5" cy="262.8" r="0.9" fill="#70e050" opacity="0.8"/>
<circle cx="82.8" cy="257.4" r="0.9" fill="#70e050" opacity="0.8"/>
<circle cx="78.4" cy="273.9" r="1.0" fill="#70e050" opacity="0.8"/>
<circle cx="80.6" cy="257.0" r="0.8" fill="#70e050" opacity="0.8"/>
<circle cx="80.1" cy="275.2" r="1.0" fill="#70e050" opacity="0.8"/>
</g>
<path d="M124,272.5 C129,270 134,267.5 139,265.5" fill="none" stroke="#a02048" stroke-width="1.4" opacity="0.75" filter="url(#bl3)"/>
<path d="M146,262 C147,265 147,268 146.5,271" fill="none" stroke="#a02048" stroke-width="1.2" opacity="0.6" filter="url(#bl3)"/>
</g>
<g clip-path="url(#cb)"><rect x="3" y="196.4" width="194" height="115.6" fill="#000" filter="url(#speck)" opacity="0.5"/><rect x="3" y="196.4" width="194" height="115.6" fill="#000" filter="url(#speck2)" opacity="0.15"/></g>
<text x="23.6" y="234.0" font-size="10.15" text-anchor="start" fill="#f2f2f2"  >dStr</text>
<line x1="43.7" y1="233.8" x2="51.7" y2="238.4" stroke="#f2f2f2" stroke-width="0.9" />
<circle cx="51.7" cy="238.4" r="1.1" fill="#f2f2f2" />
<text x="88.2" y="287.8" font-size="10.55" text-anchor="start" fill="#f2f2f2"  >GPe</text>
<line x1="85.8" y1="272.5" x2="94.8" y2="276.2" stroke="#f2f2f2" stroke-width="0.9" />
<circle cx="85.8" cy="272.5" r="1.1" fill="#f2f2f2" />
<text x="140.3" y="294.1" font-size="10.1" text-anchor="start" fill="#f2f2f2"  >SNr</text>
<line x1="140.0" y1="280.5" x2="149.6" y2="284.2" stroke="#f2f2f2" stroke-width="0.9" />
<circle cx="140.0" cy="280.5" r="1.1" fill="#f2f2f2" />
<rect x="165.0" y="305.2" width="21.0" height="1.8" fill="#f2f2f2" />
<text x="45.1" y="191.4" font-size="13.4" fill="#44ad52"><tspan>ChR2-eYFP</tspan><tspan fill="#1a1a1a">/</tspan><tspan fill="#e8262a">TH</tspan><tspan fill="#1a1a1a">/</tspan><tspan fill="#4455e0">DAPI</tspan></text>
<text x="55.7" y="348.2" font-size="13.45" fill="#44ad52"><tspan>ChR2-eYFP</tspan><tspan fill="#1a1a1a">/</tspan><tspan fill="#4455e0">DAPI</tspan></text>
<rect x="2.2" y="352.3" width="97.1" height="146.0" fill="#000" />
<rect x="100.8" y="352.3" width="96.4" height="96.0" fill="#000" />
<rect x="100.8" y="449.6" width="96.4" height="48.1" fill="#000" />
<g clip-path="url(#cc1)"><g filter="url(#bl)">
<path d="M2,395 C3,389 5,383 7.3,379.2 C9.5,375.5 12,372.5 14.6,370.4 C19,367 24,365 29.2,363.9 C34,362 39,360 43.8,358.8 C50,357.2 56,356 61.3,355.1 C64,354.5 66.5,353.7 68.6,352.9 L70,352 L100,352 L100,500 L67.5,500 L66,495.2 C60,491.5 55,489.5 50.6,487.5 C45,485 42,483.5 38.3,481.3 C33,478 29,476 26,473.7 C21,469 18,467 15.3,464.5 C11,460 9,458 7.7,455.3 C5,452 3.5,450 2,448 Z" fill="#100d90"/>
<path d="M3,395 C5,386 9,377 15.5,371 C22,366.5 32,363 44,359.5 C52,357.3 60,356 69,353" fill="none" stroke="#2e2ee8" stroke-width="2.2"/>
<path d="M6,400 C10,388 18,379 30,372 C42,367 56,363 72,361" fill="none" stroke="#2424d0" stroke-width="2"/>
<path d="M2.5,446 C5,451 9,458 13,462.5 C18,467 24,471 30,473.5 C36,477 41,480 45,483 C50,487 55,490 60,492.5 L67,496" fill="none" stroke="#3a3aff" stroke-width="2.4"/>
<path d="M14.6,457 C20,460 28,463.5 36.5,465.5 C40,467 43,470 45,473" fill="none" stroke="#3a3aff" stroke-width="1.8"/>
<path d="M20,470 C30,472 40,476 50,484 C56,488 62,490 70,493 C78,494 86,491 99,492" fill="none" stroke="#2e2ee6" stroke-width="1.4"/>
<path d="M72,492 C78,490 84,492 90,489 C94,488 97,490 99,489" fill="none" stroke="#3030f0" stroke-width="1.6"/>
<path d="M26.5,395 C27.5,392.5 31,392 33.6,393.5 C34.2,396 32.5,398.3 29.5,398.2 C27.5,397.8 26.5,396.8 26.5,395 Z" fill="#000"/>
<path d="M76,393 C80,392.2 84,392 87.6,392.3 C90,394 91.5,396 92,398.2 C91.6,402 91.2,406 91,410 C90.5,416 90,421 89.5,425 C88.5,430 87,435 85.3,439.5 C85,432 84.8,425 84.3,418 C83,413 81.5,408.5 79.8,404.5 C78.8,402 77.8,399.5 77.2,397.5 C76.7,396 76.3,394.5 76,393 Z" fill="#000"/>
<path d="M92,398.5 C95,404 96,412 95.5,420" fill="none" stroke="#3030f0" stroke-width="1.2"/>
<path d="M36,398.5 C30,402 26,408 24,415 C22.6,423 22.3,431 23,437.5 C24.5,445 28.5,451 33.6,455.5 C36,458 38,460 40,461.5 C38,457.5 34.5,452.5 31.5,446.5 C28.3,438.5 27.3,430 27.8,421 C28.6,413 31.5,406 36,400 Z" fill="#50e050"/>
<path d="M36,399.5 C42,396 49,394.2 56,393.8" fill="none" stroke="#45c845" stroke-width="1.2"/>
</g>
<g filter="url(#bl2)">
<ellipse cx="41.0" cy="432.9" rx="3.0" ry="1.8" fill="#58f058" opacity="0.90"/>
<ellipse cx="35.6" cy="433.3" rx="2.6" ry="2.3" fill="#58f058" opacity="0.99"/>
<ellipse cx="40.4" cy="428.8" rx="3.3" ry="2.6" fill="#58f058" opacity="0.79"/>
<ellipse cx="37.3" cy="429.9" rx="1.3" ry="2.5" fill="#58f058" opacity="0.92"/>
<ellipse cx="39.0" cy="437.6" rx="3.2" ry="2.4" fill="#58f058" opacity="0.90"/>
<ellipse cx="36.0" cy="438.7" rx="2.8" ry="1.5" fill="#58f058" opacity="0.80"/>
<ellipse cx="36.4" cy="425.0" rx="1.2" ry="2.4" fill="#58f058" opacity="0.79"/>
<ellipse cx="38.5" cy="423.1" rx="1.4" ry="1.3" fill="#58f058" opacity="0.96"/>
<ellipse cx="43.5" cy="431.3" rx="1.5" ry="1.5" fill="#58f058" opacity="0.74"/>
<ellipse cx="37.4" cy="420.3" rx="1.8" ry="1.6" fill="#58f058" opacity="0.76"/>
<ellipse cx="42.2" cy="429.1" rx="2.2" ry="2.0" fill="#58f058" opacity="0.86"/>
<ellipse cx="44.0" cy="425.8" rx="1.4" ry="2.3" fill="#58f058" opacity="0.81"/>
<ellipse cx="40.6" cy="428.8" rx="1.9" ry="3.2" fill="#58f058" opacity="0.91"/>
<ellipse cx="35.3" cy="429.9" rx="2.5" ry="1.3" fill="#58f058" opacity="0.73"/>
<ellipse cx="41.4" cy="435.0" rx="2.2" ry="2.1" fill="#58f058" opacity="0.85"/>
<ellipse cx="36.6" cy="438.3" rx="3.3" ry="2.3" fill="#58f058" opacity="0.71"/>
<ellipse cx="38.6" cy="436.7" rx="1.9" ry="1.4" fill="#58f058" opacity="0.76"/>
<ellipse cx="43.0" cy="432.7" rx="1.8" ry="2.6" fill="#58f058" opacity="0.93"/>
<ellipse cx="39.1" cy="436.8" rx="3.2" ry="3.1" fill="#58f058" opacity="0.93"/>
<ellipse cx="41.2" cy="430.3" rx="3.1" ry="2.6" fill="#58f058" opacity="0.92"/>
<ellipse cx="36.2" cy="421.0" rx="1.8" ry="2.5" fill="#58f058" opacity="0.87"/>
<ellipse cx="35.8" cy="423.1" rx="3.3" ry="1.4" fill="#58f058" opacity="0.98"/>
<ellipse cx="43.8" cy="431.6" rx="3.4" ry="2.7" fill="#58f058" opacity="0.70"/>
<ellipse cx="46.1" cy="428.1" rx="3.2" ry="3.0" fill="#58f058" opacity="0.74"/>
<ellipse cx="43.9" cy="436.4" rx="1.7" ry="1.4" fill="#58f058" opacity="0.81"/>
<ellipse cx="44.2" cy="435.3" rx="3.1" ry="3.3" fill="#58f058" opacity="0.93"/>
<ellipse cx="33.1" cy="438.0" rx="2.6" ry="1.9" fill="#58f058" opacity="0.74"/>
<ellipse cx="37.7" cy="426.5" rx="2.3" ry="2.2" fill="#58f058" opacity="0.76"/>
<ellipse cx="34.1" cy="423.5" rx="1.5" ry="1.4" fill="#58f058" opacity="0.82"/>
<ellipse cx="34.8" cy="436.6" rx="2.4" ry="2.2" fill="#58f058" opacity="0.89"/>
<ellipse cx="34.1" cy="426.4" rx="2.0" ry="1.8" fill="#58f058" opacity="0.79"/>
<ellipse cx="39.3" cy="427.4" rx="1.8" ry="2.8" fill="#58f058" opacity="0.77"/>
<ellipse cx="50" cy="426" rx="2.5" ry="1.5" fill="#48d848" opacity="0.75"/>
<ellipse cx="54" cy="430" rx="2" ry="1.2" fill="#48d848" opacity="0.75"/>
<ellipse cx="58" cy="422" rx="2.2" ry="1" fill="#48d848" opacity="0.75"/>
<ellipse cx="61.5" cy="418.5" rx="1.5" ry="1" fill="#48d848" opacity="0.75"/>
<ellipse cx="46" cy="430" rx="2" ry="2" fill="#48d848" opacity="0.75"/>
</g>
<g filter="url(#bl3)">
<path d="M51,405 C54,403.8 58,403.8 61.3,404.6 C58,406.3 54,406.5 51,405.6 Z" fill="#5ef05e"/>
<circle cx="70" cy="406.6" r="1.3" fill="#50d050"/>
<path d="M58,419.5 C60,417 62.5,416.5 63.5,418 C62,420 60,421 58,421 Z" fill="#5ef05e"/>
<path d="M55.5,425 C57,424.2 60,424.5 61.3,426 C60.5,428.5 58,429.5 56,428.8 Z" fill="#000"/>
</g>
<rect x="2.2" y="352.3" width="97.1" height="146" fill="#000" filter="url(#speck)"/>
<rect x="2.2" y="352.3" width="97.1" height="146" fill="#000" filter="url(#speck2)" opacity="0.55"/>
<path d="M22.4,437 C22,429 22.3,421 24.5,413 C27,406 31,401 36,398 C42,394.7 49,393.2 56,392.8 C61,392.5 66,393 70,393.5 C74,394.5 77,397 79.6,404.4 C81.5,410 83.5,414 84,417.5 C84.6,425 84.7,432 84.7,438.7 L43.8,467.2 C40,463.5 36,459.5 32,456 C27,451 23.5,444 22.4,437 Z" fill="none" stroke="#eee" stroke-width="1.1" stroke-dasharray="2.2 1.8"/>
</g>
<text x="36.5" y="415.8" font-size="11.2" text-anchor="start" fill="#eee"  >dStr</text>
<rect x="80.3" y="492.8" width="16.0" height="1.8" fill="#f2f2f2" />
<g clip-path="url(#cc2)"><g filter="url(#bl)">
<path d="M100,352 L200,352 L200,448.5 L123.6,448.5 C118,444 112.5,438.5 108.5,433.5 C105,429.5 102.5,426.5 100.5,423.6 Z" fill="#0d0a84"/>
<path d="M163.2,361.5 C168,360.5 174,360 178.5,360.5 C181,361.5 182.5,363 182.4,365.3 C182,368 181.5,371 180.4,373 C177,375 174,375.8 170.9,375.9 C167,375.5 164.5,374.5 163.2,373 C161,371.5 160.3,370 160.3,369.2 C160.5,366 161.5,363 163.2,361.5 Z" fill="#000"/>
<path d="M192,378.8 L198,377 L198,385 L193,384.5 Z" fill="#000"/>
<path d="M163.5,380.7 L168.5,380.7 L168.8,393 L163.8,393 Z" fill="#08044a"/>
<path d="M131,383.5 C136,383 141,383 144,382.6 C145,379 145,375 145.9,373 C149,371 152,369.8 155.5,369.2 C158,369 160,370 162,371" fill="none" stroke="#3a3aff" stroke-width="1.3"/>
<path d="M101,422.5 C104,427 107.5,431 110.5,434.5 C114,438.5 118,442.5 122,446 C123.5,447 124.5,448 125.5,449" fill="none" stroke="#3a3aff" stroke-width="1.5"/>
<path d="M104,370 C112,395 130,425 150,440" fill="none" stroke="#2020c8" stroke-width="1"/>
<path d="M120,360 C140,356 160,354 180,356" fill="none" stroke="#2020c8" stroke-width="1"/>
</g>
<rect x="100.8" y="352.3" width="96.4" height="96" fill="#000" filter="url(#speck)"/>
<rect x="100.8" y="352.3" width="96.4" height="96" fill="#000" filter="url(#speck2)" opacity="0.55"/>
<g filter="url(#bl3)" opacity="0.85"><ellipse cx="159.5" cy="410" rx="3.4" ry="13.2" fill="#34b868" transform="rotate(-29 159.5 410)"/><ellipse cx="158.2" cy="406.5" rx="2" ry="7" fill="#50e070" transform="rotate(-29 158.2 406.5)"/></g>
<rect x="150" y="392" width="20" height="34" fill="#000" filter="url(#speck)" opacity="0.8"/>
<ellipse cx="159.5" cy="410" rx="4.6" ry="14.6" fill="none" stroke="#eee" stroke-width="1" stroke-dasharray="2 1.6" transform="rotate(-29 159.5 410)"/>
<path d="M162.3,352 L162.3,393.1 L168.9,393.1 L168.9,352" fill="none" stroke="#eee" stroke-width="0.9" stroke-dasharray="1.6 1.2"/>
</g>
<text x="106.7" y="367.5" font-size="10.5" text-anchor="start" fill="#eee"  >Fiber Track</text>
<text x="133.8" y="423.3" font-size="10.75" text-anchor="start" fill="#eee"  >GPe</text>
<rect x="176.6" y="443.9" width="17.3" height="1.8" fill="#f2f2f2" />
<g clip-path="url(#cc3)"><g filter="url(#bl)">
<rect x="100" y="449" width="98" height="50" fill="#0f0b84"/>
<path d="M100,462 C105,472 112,486 118,498 L100,498 Z" fill="#06043a"/>
<path d="M102,453 C109,463 117,479 125,497" fill="none" stroke="#2340b8" stroke-width="4.2" opacity="0.85"/>
<path d="M181.4,498 C182,493 183,490 184.4,488.2 C186,485.5 188,483.5 190.3,482.2 C193,481 195,480.7 198,480.7 L198,498 Z" fill="#03021a"/>
<path d="M113,453 C128,450 150,452 168,460 C178,466 184,474 185.1,480 C180,486 170,489 158,489.7 C146,489.8 136,487.5 128,482 C121,476 116,466 113,453 Z" fill="#1a14a8"/>
</g>
<rect x="100.8" y="449.6" width="96.4" height="48.1" fill="#000" filter="url(#speck)"/>
<rect x="100.8" y="449.6" width="96.4" height="48.1" fill="#000" filter="url(#speck2)" opacity="0.5"/>
<path d="M111.4,453.2 C117,451.5 122,451 127.8,451.3 C135,451.6 143,452 150.1,453.2 C157,455 163,457.5 168,459.9 C172,462.5 175.5,465.5 178.4,468.8 C181,472 183.5,476 185.1,480 C182.5,482 180.5,484 178.4,485.2 C174,487 169,488.3 165,488.9 C158,489.7 151,489.9 145.6,489.7 C140,489 136,487.5 132.2,485.2 C129,483 126,480.5 123.3,477.8 C120,474 117,470 114.4,465.8 C112.5,462.5 111.3,459.5 110.7,456.9 Z" fill="none" stroke="#eee" stroke-width="1" stroke-dasharray="2 1.6"/>
</g>
<text x="137.3" y="480.8" font-size="11.2" text-anchor="start" fill="#eee"  >SNr</text>
<rect x="188.8" y="492.6" width="6.0" height="1.8" fill="#f2f2f2" /></svg></body></html>
